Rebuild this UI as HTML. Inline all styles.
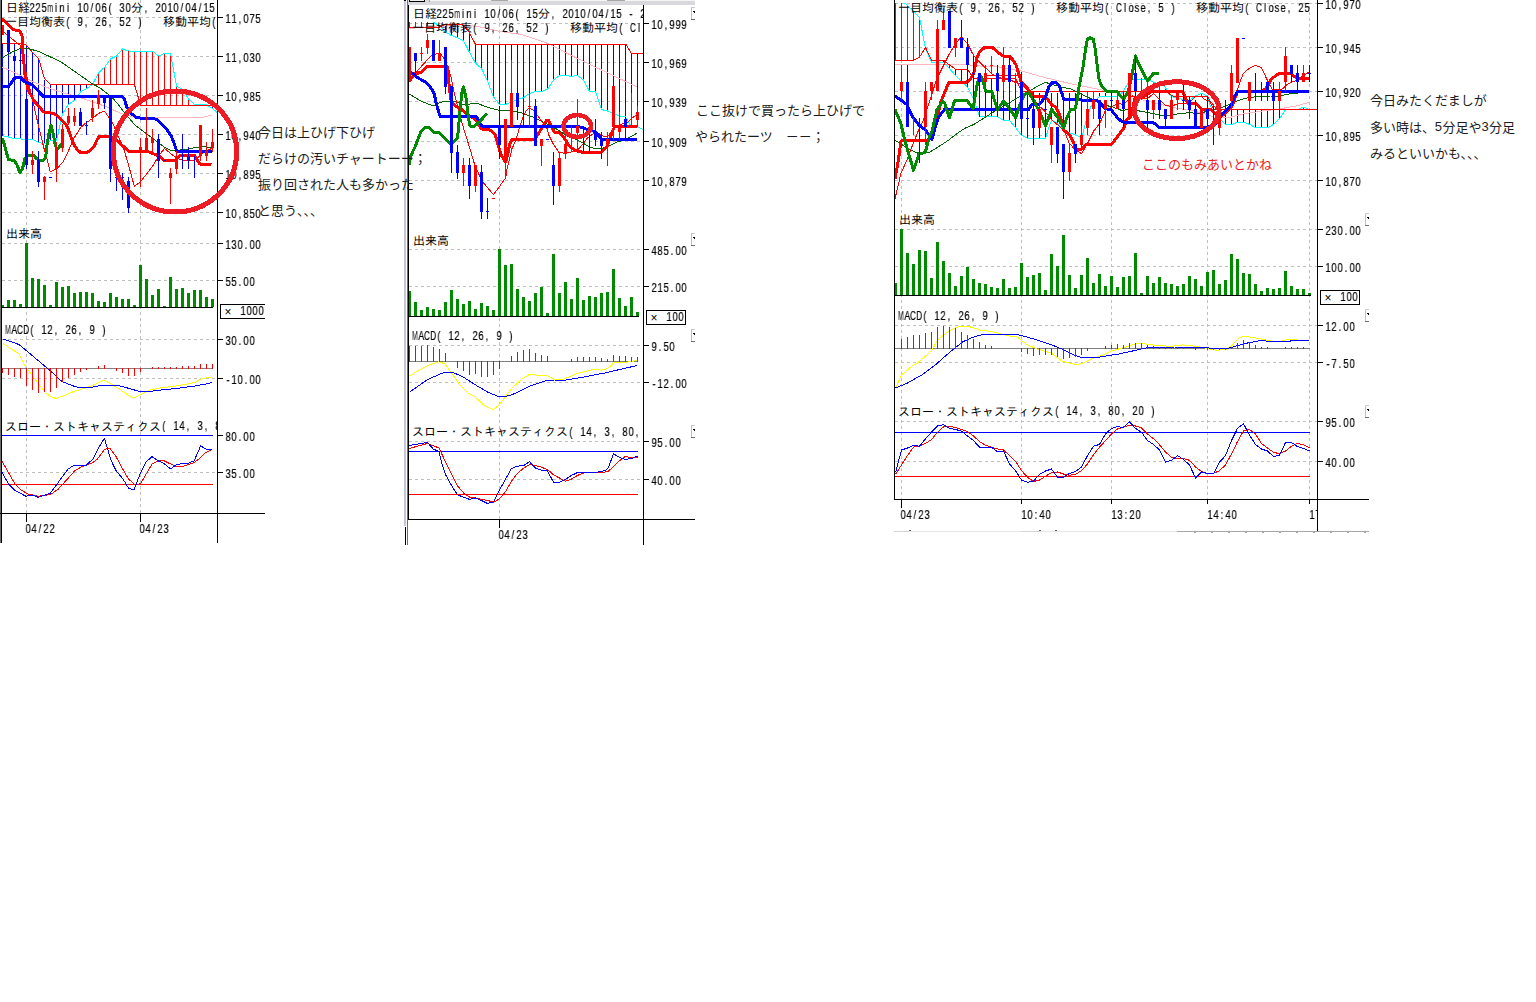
<!DOCTYPE html>
<html lang="ja"><head><meta charset="utf-8"><title>日経225mini チャート</title>
<style>
html,body{margin:0;padding:0;background:#fff}
body{width:1536px;height:1002px;position:relative;overflow:hidden;font-family:"Liberation Sans",sans-serif}
svg{position:absolute;left:0;top:0}
.m{position:absolute;font:12px/12px "Liberation Sans",sans-serif;color:#000;white-space:pre;transform:scaleX(.8);transform-origin:0 0;will-change:transform;-webkit-text-stroke:.2px #000}
.m b{display:inline-block;width:7.5px;text-align:center;font-weight:normal}
.m b.w6{transform:scaleX(.72);transform-origin:0 0;text-align:left;-webkit-text-stroke:0}
.m b.w7{transform:scaleX(.84);transform-origin:0 0;text-align:left}
.m b.w8{transform:scaleX(.92);transform-origin:0 0;text-align:left}
.c{position:absolute;height:12px;overflow:hidden}
.c .m{left:0;top:0}
.g{fill:#000;font-family:"Liberation Sans","IPAGothic",sans-serif;font-size:12px}
.a{fill:#1c1c1c;font-family:"Liberation Sans","Noto Sans CJK JP",sans-serif;font-size:13px}
.s{position:absolute;font:13px/14px "Liberation Sans",sans-serif;color:#222;white-space:pre}
</style></head><body>
<svg width="1536" height="1002" viewBox="0 0 1536 1002" shape-rendering="crispEdges">
<defs>
<clipPath id="c1"><rect x="0" y="0" width="217" height="543"/></clipPath>
<clipPath id="c1r"><rect x="217" y="0" width="48" height="543"/></clipPath>
<clipPath id="c2"><rect x="408" y="5" width="235" height="540"/></clipPath>
<clipPath id="c2r"><rect x="643" y="0" width="52" height="545"/></clipPath>
<clipPath id="c3"><rect x="894" y="0" width="423" height="531"/></clipPath>
<clipPath id="c3p"><rect x="894" y="3" width="423" height="528"/></clipPath>
<clipPath id="c3r"><rect x="1317" y="0" width="52" height="531"/></clipPath>
</defs>
<g clip-path="url(#c1)">
<path d="M2 17.5H217" stroke="#c0c0c0" stroke-dasharray="3 3" fill="none"/>
<path d="M2 56.5H217" stroke="#c0c0c0" stroke-dasharray="3 3" fill="none"/>
<path d="M2 95.5H217" stroke="#c0c0c0" stroke-dasharray="3 3" fill="none"/>
<path d="M2 134.5H217" stroke="#c0c0c0" stroke-dasharray="3 3" fill="none"/>
<path d="M2 173.5H217" stroke="#c0c0c0" stroke-dasharray="3 3" fill="none"/>
<path d="M2 212.5H217" stroke="#c0c0c0" stroke-dasharray="3 3" fill="none"/>
<path d="M2 243.5H217" stroke="#c0c0c0" stroke-dasharray="3 3" fill="none"/>
<path d="M2 280.5H217" stroke="#c0c0c0" stroke-dasharray="3 3" fill="none"/>
<path d="M2 339.5H217" stroke="#c0c0c0" stroke-dasharray="3 3" fill="none"/>
<path d="M2 378.5H217" stroke="#c0c0c0" stroke-dasharray="3 3" fill="none"/>
<path d="M2 472.5H217" stroke="#c0c0c0" stroke-dasharray="3 3" fill="none"/>
<path d="M26.5 0V513" stroke="#c0c0c0" stroke-dasharray="3 3" fill="none"/>
<path d="M140.5 0V513" stroke="#c0c0c0" stroke-dasharray="3 3" fill="none"/>
<rect x="2" y="44" width="1" height="92" fill="#0000ff"/>
<rect x="8" y="44" width="1" height="93" fill="#0000ff"/>
<rect x="14" y="44" width="1" height="95" fill="#0000ff"/>
<rect x="20" y="46" width="1" height="93" fill="#0000ff"/>
<rect x="26" y="46" width="1" height="93" fill="#0000ff"/>
<rect x="32" y="53" width="1" height="86" fill="#0000ff"/>
<rect x="38" y="59" width="1" height="83" fill="#0000ff"/>
<rect x="44" y="80" width="1" height="64" fill="#0000ff"/>
<rect x="50" y="85" width="1" height="56" fill="#0000ff"/>
<rect x="56" y="85" width="1" height="56" fill="#0000ff"/>
<rect x="62" y="85" width="1" height="29" fill="#0000ff"/>
<rect x="68" y="85" width="1" height="19" fill="#0000ff"/>
<rect x="74" y="85" width="1" height="15" fill="#0000ff"/>
<rect x="80" y="85" width="1" height="7" fill="#0000ff"/>
<rect x="86" y="85" width="1" height="4" fill="#0000ff"/>
<rect x="98" y="73" width="1" height="11" fill="#ff0000"/>
<rect x="104" y="67" width="1" height="17" fill="#ff0000"/>
<rect x="110" y="59" width="1" height="25" fill="#ff0000"/>
<rect x="116" y="56" width="1" height="28" fill="#ff0000"/>
<rect x="122" y="49" width="1" height="35" fill="#ff0000"/>
<rect x="128" y="51" width="1" height="33" fill="#ff0000"/>
<rect x="134" y="51" width="1" height="33" fill="#ff0000"/>
<rect x="140" y="51" width="1" height="54" fill="#ff0000"/>
<rect x="146" y="51" width="1" height="54" fill="#ff0000"/>
<rect x="152" y="51" width="1" height="54" fill="#ff0000"/>
<rect x="158" y="56" width="1" height="49" fill="#ff0000"/>
<rect x="164" y="53" width="1" height="52" fill="#ff0000"/>
<rect x="170" y="53" width="1" height="52" fill="#ff0000"/>
<rect x="176" y="86" width="1" height="19" fill="#ff0000"/>
<rect x="182" y="90" width="1" height="15" fill="#ff0000"/>
<rect x="188" y="99" width="1" height="6" fill="#ff0000"/>
<rect x="194" y="104" width="1" height="1" fill="#ff0000"/>
<rect x="212" y="106" width="1" height="2" fill="#0000ff"/>
<polyline points="2,67 16.8,73.6 33.5,82 50.3,88.7 67,93.8 83.8,98.8 96.4,103 108.4,107.7 121,113.5 133.5,116.9 152.8,117.3 202.3,117.3 211.9,115.2" fill="none" stroke="#ffb6c1" stroke-width="1" stroke-linejoin="round"/>
<polyline points="2.5,135.6 8.5,137 14.5,138.6 20.5,139 26.5,139.4 32.5,139.4 38.5,142.3 44.5,143.8 50.5,140.7 56.5,140.7 62.5,114 68.5,104.2 74.5,100.4 80.5,92 86.5,88.7 92.5,84.5 98.5,72.8 104.5,67.4 110.5,59 116.5,56 122.5,49 128.5,51 134.5,51 140.5,51 146.5,51 152.5,51 158.5,56 164.5,53.4 170.5,53.4 176.5,86 182.5,89.5 188.5,99 194.5,104.3 200.5,104.4 206.5,104.6 212.5,108.5 217.5,112.7" fill="none" stroke="#00ffff" stroke-width="1" stroke-linejoin="round"/>
<polyline points="2,43 21,43 26.4,45.1 32.5,52.3 38.6,58.5 44.4,78.7 50.3,84.5 134.4,84.5 140.6,105.2 212.6,105.2" fill="none" stroke="#ff0000" stroke-width="1" stroke-linejoin="round"/>
<polyline points="2,58 10.9,52.7 20,48.5 29,48.8 38.6,51.4 50.3,56.9 61.2,62 75.4,72 92.2,83.7 100,88 110,95.5 116.8,102.6 125,113.5 135.2,125.3 145.3,132.8 152,137.8 158.7,142.9 165.4,147.9 171.2,150.4 184.7,149.8 196.4,147.2 204.8,146.8 212,147.5" fill="none" stroke="#006400" stroke-width="1" stroke-linejoin="round"/>
<polyline points="2.5,31 8.6,36 14.6,41 20.6,45.5 24,62 26.6,75 32.6,100 37.7,122.6 43.6,147 47,158.7 50.3,172 57,168.7 62.9,162 68.7,150.3 73.8,138.6 80.5,127.7 86.3,122.6 92.6,118.4 98.5,113.4 104.4,111 109,117.6 113.2,124.3 118,136 123.5,148 128.5,165 134.4,186.5 140.2,182 147,173.5 152.8,166 158.7,156 164.5,148.4 170.4,153.4 176.3,158 183,160.5 194.7,160.5 199.7,156 205.6,151 212,148.4" fill="none" stroke="#ff0000" stroke-width="1" stroke-linejoin="round"/>
<polyline points="2,19 8.4,25 13.4,29.6 20,31 22,36 23,53.5 25,74.5 27.7,88.7 33.5,100 43.6,112 53.6,113.4 58.7,116.8 67,126 70.4,135.2 73.8,144.4 77,149.5 80.5,152.4 86.3,152.8 90.5,150.3 94.7,145.3 97.2,139.4 99.3,136.5 111,136.5 116.8,140.4 128.5,151.2 147,151.2 158.7,155.8 163.5,160 175.4,160 180.5,155.5 194.7,155.5 199.7,164 211.5,164.3" fill="none" stroke="#ff0000" stroke-width="3" stroke-linejoin="round"/>
<polyline points="2,86.6 8.4,86.6 10.9,83.7 13.8,78.7 16.8,77.4 21,77.8 25,82 31.9,84.5 37.7,90.4 43.6,96.8 122.2,96.8 124.3,98.9 126.8,106.8 130.2,112.7 136,117.3 140.2,118.1 152.8,118.1 157.8,120.2 166.2,128.6 171.2,136.2 174.6,144.5 176.7,151.2 211.9,151.2" fill="none" stroke="#0000ff" stroke-width="3" stroke-linejoin="round"/>
<polyline points="2.5,138 5,147 8.4,159.5 14.2,160.8 16.8,164.5 20,173 22.6,168 25,158.7 27.7,155.3 33.5,155.3 37,159 39.4,160.4 43.6,160 45.7,157 47,145.3 49,133.5 51,125 53.2,133.5 55.3,145.3 57,149.5 58.7,147.8 61.2,143.6" fill="none" stroke="#008a00" stroke-width="3" stroke-linejoin="round"/>
<rect x="1" y="25" width="3" height="10" fill="#ff0000"/>
<rect x="8" y="30" width="1" height="22" fill="#0000ff"/>
<rect x="7" y="30" width="3" height="22" fill="#0000ff"/>
<rect x="13" y="56" width="3" height="5" fill="#0000ff"/>
<rect x="19" y="60" width="3" height="1" fill="#0000ff"/>
<rect x="26" y="99" width="1" height="70" fill="#0000ff"/>
<rect x="25" y="99" width="3" height="66" fill="#0000ff"/>
<rect x="32" y="151" width="1" height="23" fill="#ff0000"/>
<rect x="31" y="160" width="3" height="5" fill="#ff0000"/>
<rect x="38" y="151" width="1" height="36" fill="#0000ff"/>
<rect x="37" y="160" width="3" height="22" fill="#0000ff"/>
<rect x="44" y="176" width="1" height="24" fill="#ff0000"/>
<rect x="43" y="177" width="3" height="5" fill="#ff0000"/>
<rect x="49" y="177" width="3" height="1" fill="#0000ff"/>
<rect x="56" y="142" width="1" height="40" fill="#ff0000"/>
<rect x="55" y="147" width="3" height="22" fill="#ff0000"/>
<rect x="62" y="124" width="1" height="28" fill="#ff0000"/>
<rect x="61" y="129" width="3" height="19" fill="#ff0000"/>
<rect x="68" y="108" width="1" height="17" fill="#ff0000"/>
<rect x="67" y="116" width="3" height="7" fill="#ff0000"/>
<rect x="74" y="108" width="1" height="18" fill="#ff0000"/>
<rect x="73" y="116" width="3" height="6" fill="#ff0000"/>
<rect x="80" y="108" width="1" height="18" fill="#0000ff"/>
<rect x="79" y="112" width="3" height="14" fill="#0000ff"/>
<rect x="86" y="121" width="1" height="14" fill="#0000ff"/>
<rect x="85" y="125" width="3" height="1" fill="#0000ff"/>
<rect x="92" y="100" width="1" height="22" fill="#ff0000"/>
<rect x="91" y="108" width="3" height="10" fill="#ff0000"/>
<rect x="98" y="90" width="1" height="19" fill="#ff0000"/>
<rect x="97" y="95" width="3" height="9" fill="#ff0000"/>
<rect x="104" y="95" width="1" height="14" fill="#0000ff"/>
<rect x="103" y="95" width="3" height="8" fill="#0000ff"/>
<rect x="110" y="97" width="1" height="85" fill="#0000ff"/>
<rect x="109" y="97" width="3" height="72" fill="#0000ff"/>
<rect x="116" y="173" width="1" height="18" fill="#0000ff"/>
<rect x="115" y="177" width="3" height="1" fill="#0000ff"/>
<rect x="122" y="173" width="1" height="27" fill="#0000ff"/>
<rect x="121" y="177" width="3" height="1" fill="#0000ff"/>
<rect x="128" y="177" width="1" height="36" fill="#0000ff"/>
<rect x="127" y="181" width="3" height="27" fill="#0000ff"/>
<rect x="140" y="138" width="1" height="49" fill="#ff0000"/>
<rect x="139" y="147" width="3" height="4" fill="#ff0000"/>
<rect x="146" y="108" width="1" height="44" fill="#ff0000"/>
<rect x="145" y="138" width="3" height="14" fill="#ff0000"/>
<rect x="152" y="129" width="1" height="23" fill="#ff0000"/>
<rect x="151" y="138" width="3" height="5" fill="#ff0000"/>
<rect x="158" y="134" width="1" height="44" fill="#0000ff"/>
<rect x="157" y="139" width="3" height="22" fill="#0000ff"/>
<rect x="163" y="160" width="3" height="1" fill="#0000ff"/>
<rect x="170" y="168" width="1" height="36" fill="#ff0000"/>
<rect x="169" y="173" width="3" height="5" fill="#ff0000"/>
<rect x="176" y="151" width="1" height="23" fill="#ff0000"/>
<rect x="175" y="156" width="3" height="13" fill="#ff0000"/>
<rect x="182" y="134" width="1" height="35" fill="#0000ff"/>
<rect x="181" y="155" width="3" height="1" fill="#0000ff"/>
<rect x="188" y="147" width="1" height="22" fill="#0000ff"/>
<rect x="187" y="156" width="3" height="5" fill="#0000ff"/>
<rect x="194" y="156" width="1" height="22" fill="#0000ff"/>
<rect x="200" y="125" width="1" height="36" fill="#ff0000"/>
<rect x="199" y="125" width="3" height="31" fill="#ff0000"/>
<rect x="206" y="142" width="1" height="19" fill="#ff0000"/>
<rect x="205" y="151" width="3" height="5" fill="#ff0000"/>
<rect x="212" y="129" width="1" height="23" fill="#ff0000"/>
<rect x="211" y="142" width="3" height="6" fill="#ff0000"/>
<rect x="1" y="305" width="3" height="2" fill="#008a00"/>
<rect x="7" y="300" width="3" height="7" fill="#008a00"/>
<rect x="13" y="300" width="3" height="7" fill="#008a00"/>
<rect x="19" y="304" width="3" height="3" fill="#008a00"/>
<rect x="25" y="243" width="3" height="64" fill="#008a00"/>
<rect x="31" y="278" width="3" height="29" fill="#008a00"/>
<rect x="37" y="279" width="3" height="28" fill="#008a00"/>
<rect x="43" y="285" width="3" height="22" fill="#008a00"/>
<rect x="49" y="305" width="3" height="2" fill="#008a00"/>
<rect x="55" y="282" width="3" height="25" fill="#008a00"/>
<rect x="61" y="287" width="3" height="20" fill="#008a00"/>
<rect x="67" y="286" width="3" height="21" fill="#008a00"/>
<rect x="73" y="293" width="3" height="14" fill="#008a00"/>
<rect x="79" y="292" width="3" height="15" fill="#008a00"/>
<rect x="85" y="292" width="3" height="15" fill="#008a00"/>
<rect x="91" y="293" width="3" height="14" fill="#008a00"/>
<rect x="97" y="301" width="3" height="6" fill="#008a00"/>
<rect x="103" y="302" width="3" height="5" fill="#008a00"/>
<rect x="109" y="293" width="3" height="14" fill="#008a00"/>
<rect x="115" y="297" width="3" height="10" fill="#008a00"/>
<rect x="121" y="299" width="3" height="8" fill="#008a00"/>
<rect x="127" y="299" width="3" height="8" fill="#008a00"/>
<rect x="133" y="305" width="3" height="2" fill="#008a00"/>
<rect x="139" y="265" width="3" height="42" fill="#008a00"/>
<rect x="145" y="279" width="3" height="28" fill="#008a00"/>
<rect x="151" y="295" width="3" height="12" fill="#008a00"/>
<rect x="157" y="289" width="3" height="18" fill="#008a00"/>
<rect x="163" y="306" width="3" height="1" fill="#008a00"/>
<rect x="169" y="277" width="3" height="30" fill="#008a00"/>
<rect x="175" y="289" width="3" height="18" fill="#008a00"/>
<rect x="181" y="288" width="3" height="19" fill="#008a00"/>
<rect x="187" y="293" width="3" height="14" fill="#008a00"/>
<rect x="193" y="290" width="3" height="17" fill="#008a00"/>
<rect x="199" y="290" width="3" height="17" fill="#008a00"/>
<rect x="205" y="297" width="3" height="10" fill="#008a00"/>
<rect x="211" y="299" width="3" height="8" fill="#008a00"/>
<rect x="2" y="307" width="211" height="1" fill="#000"/>
<rect x="2" y="368" width="211" height="1" fill="#808080"/>
<polyline points="3,343.6 19,354 26,368 27,368.4 37.5,382.5 45,392 50.6,397 56,398.4 64,395.6 75,391 86,388 97.5,383.4 104,380 110,383.4 118,388 127.5,394.7 133.5,398.4 140.6,394.7 150,390 161,387.8 176,386 195,382.5 200.6,379 212,377" fill="none" stroke="#ffff00" stroke-width="1" stroke-linejoin="round"/>
<polyline points="3,339 19,344.5 28,352 37.5,360 50.6,371 62,381.6 75,386.6 80.6,387.6 92,387.2 103,385 116,385 127.5,388 139,391.3 150,391.3 165,389.6 180,388 195,386 206,384 212,382.5" fill="none" stroke="#0000ff" stroke-width="1" stroke-linejoin="round"/>
<rect x="2" y="368" width="1" height="5" fill="#ff0000"/>
<rect x="8" y="368" width="1" height="7" fill="#ff0000"/>
<rect x="14" y="368" width="1" height="9" fill="#ff0000"/>
<rect x="20" y="368" width="1" height="10" fill="#ff0000"/>
<rect x="26" y="368" width="1" height="18" fill="#ff0000"/>
<rect x="32" y="368" width="1" height="22" fill="#ff0000"/>
<rect x="38" y="368" width="1" height="25" fill="#ff0000"/>
<rect x="44" y="368" width="1" height="24" fill="#ff0000"/>
<rect x="50" y="368" width="1" height="24" fill="#ff0000"/>
<rect x="56" y="368" width="1" height="20" fill="#ff0000"/>
<rect x="62" y="368" width="1" height="14" fill="#ff0000"/>
<rect x="68" y="368" width="1" height="10" fill="#ff0000"/>
<rect x="74" y="368" width="1" height="7" fill="#ff0000"/>
<rect x="80" y="368" width="1" height="4" fill="#ff0000"/>
<rect x="86" y="368" width="1" height="2" fill="#ff0000"/>
<rect x="98" y="366" width="1" height="3" fill="#ff0000"/>
<rect x="104" y="365" width="1" height="4" fill="#ff0000"/>
<rect x="116" y="368" width="1" height="3" fill="#ff0000"/>
<rect x="122" y="368" width="1" height="5" fill="#ff0000"/>
<rect x="128" y="368" width="1" height="8" fill="#ff0000"/>
<rect x="134" y="368" width="1" height="8" fill="#ff0000"/>
<rect x="140" y="368" width="1" height="4" fill="#ff0000"/>
<rect x="152" y="367" width="1" height="2" fill="#ff0000"/>
<rect x="158" y="367" width="1" height="2" fill="#ff0000"/>
<rect x="164" y="367" width="1" height="2" fill="#ff0000"/>
<rect x="170" y="367" width="1" height="2" fill="#ff0000"/>
<rect x="176" y="367" width="1" height="2" fill="#ff0000"/>
<rect x="182" y="366" width="1" height="3" fill="#ff0000"/>
<rect x="188" y="366" width="1" height="3" fill="#ff0000"/>
<rect x="194" y="366" width="1" height="3" fill="#ff0000"/>
<rect x="200" y="364" width="1" height="5" fill="#ff0000"/>
<rect x="206" y="364" width="1" height="5" fill="#ff0000"/>
<rect x="212" y="364" width="1" height="5" fill="#ff0000"/>
<rect x="2" y="435" width="211" height="1" fill="#0000ff"/>
<rect x="2" y="484" width="211" height="1" fill="#ff0000"/>
<polyline points="1.9,461 8.4,472.5 15,483.8 20.6,489.8 28,494 38.4,496.3 50.6,494.4 58,489.4 64,482.8 75,470.6 80.6,467.3 92,463 97.5,459 104.4,449.6 109.7,448 116,456.6 122,467.8 128.4,479 135,484.7 140.6,483.8 146,474.4 152,464 158.4,460.7 164,460.7 170.6,464 176,466.3 183,466.3 194,462.8 200.6,457.5 206,452.3 212,449.6" fill="none" stroke="#ff0000" stroke-width="1" stroke-linejoin="round"/>
<polyline points="1.9,472 8.4,483.8 15,490.3 26,496.3 32,495 38.4,497.3 44,495.4 50,493.5 56,485.6 62,477 68.4,468.8 74,465.4 86,465.4 93,459 98.4,448 104.4,438.4 108,450 110.6,459.4 116,470.6 123,479 128.4,488 134,490 137,482 140.6,472.5 146,462 152,456.6 158.4,461 164,463.5 170.6,469 176,465 182,463.5 187.5,463.5 194,461 200.6,446 206,449 212,449.6" fill="none" stroke="#0000ff" stroke-width="1" stroke-linejoin="round"/>
</g>
<rect x="0" y="0" width="1" height="543" fill="#6e6e6e"/>
<rect x="1" y="0" width="1" height="543" fill="#000"/>
<rect x="217" y="0" width="1" height="543" fill="#000"/>
<rect x="0" y="513" width="265" height="1" fill="#000"/>
<rect x="26" y="514" width="1" height="8" fill="#000"/>
<rect x="140" y="514" width="1" height="8" fill="#000"/>
<rect x="218" y="17" width="5" height="1" fill="#000"/>
<rect x="218" y="56" width="5" height="1" fill="#000"/>
<rect x="218" y="95" width="5" height="1" fill="#000"/>
<rect x="218" y="134" width="5" height="1" fill="#000"/>
<rect x="218" y="173" width="5" height="1" fill="#000"/>
<rect x="218" y="212" width="5" height="1" fill="#000"/>
<rect x="218" y="243" width="5" height="1" fill="#000"/>
<rect x="218" y="280" width="5" height="1" fill="#000"/>
<rect x="218" y="339" width="5" height="1" fill="#000"/>
<rect x="218" y="378" width="5" height="1" fill="#000"/>
<rect x="218" y="435" width="5" height="1" fill="#000"/>
<rect x="218" y="472" width="5" height="1" fill="#000"/>
<rect x="220.5" y="304.5" width="50" height="14" fill="#fff" stroke="#000" clip-path="url(#c1r)"/>
<text class="g" x="228" y="315.5" font-size="13" text-anchor="middle">×</text>
<g clip-path="url(#c1)">
<text class="g" x="6" y="12">日経</text>
<text class="g" x="131" y="12">分</text>
<text class="g" x="5" y="26">一目均衡表</text>
<text class="g" x="163" y="26">移動平均</text>
<text class="g" x="6" y="238">出来高</text>
<text class="g" x="5" y="431">スロー・ストキャスティクス</text>
</g>
<rect x="408" y="0" width="287" height="5" fill="#d9d9dd"/>
<rect x="430" y="0" width="265" height="1" fill="#f4f4f4"/>
<rect x="429" y="0" width="1" height="2" fill="#a0a0a0"/>
<rect x="409" y="0" width="16" height="2" fill="#000"/>
<rect x="410" y="0" width="14" height="1" fill="#f0f0f0"/>
<rect x="491" y="0" width="17" height="1" fill="#a8a8a8"/>
<rect x="607" y="0" width="18" height="1" fill="#a8a8a8"/>
<rect x="404" y="0" width="2" height="526" fill="#c6c6d6"/>
<rect x="404" y="0" width="2" height="1" fill="#000"/>
<rect x="405" y="527" width="1" height="18" fill="#000"/>
<g clip-path="url(#c2)">
<path d="M409 23.5H643" stroke="#c0c0c0" stroke-dasharray="3 3" fill="none"/>
<path d="M409 62.5H643" stroke="#c0c0c0" stroke-dasharray="3 3" fill="none"/>
<path d="M409 101.5H643" stroke="#c0c0c0" stroke-dasharray="3 3" fill="none"/>
<path d="M409 141.5H643" stroke="#c0c0c0" stroke-dasharray="3 3" fill="none"/>
<path d="M409 180.5H643" stroke="#c0c0c0" stroke-dasharray="3 3" fill="none"/>
<path d="M409 249.5H643" stroke="#c0c0c0" stroke-dasharray="3 3" fill="none"/>
<path d="M409 286.5H643" stroke="#c0c0c0" stroke-dasharray="3 3" fill="none"/>
<path d="M409 345.5H643" stroke="#c0c0c0" stroke-dasharray="3 3" fill="none"/>
<path d="M409 382.5H643" stroke="#c0c0c0" stroke-dasharray="3 3" fill="none"/>
<path d="M409 441.5H643" stroke="#c0c0c0" stroke-dasharray="3 3" fill="none"/>
<path d="M409 479.5H643" stroke="#c0c0c0" stroke-dasharray="3 3" fill="none"/>
<path d="M499.5 6V519" stroke="#c0c0c0" stroke-dasharray="3 3" fill="none"/>
<rect x="409" y="22" width="1" height="6" fill="#ff0000"/>
<rect x="415" y="22" width="1" height="6" fill="#ff0000"/>
<rect x="421" y="22" width="1" height="6" fill="#ff0000"/>
<rect x="427" y="22" width="1" height="6" fill="#ff0000"/>
<rect x="433" y="22" width="1" height="6" fill="#ff0000"/>
<rect x="439" y="26" width="1" height="2" fill="#ff0000"/>
<rect x="445" y="25" width="1" height="7" fill="#0000ff"/>
<rect x="451" y="25" width="1" height="11" fill="#0000ff"/>
<rect x="457" y="25" width="1" height="13" fill="#0000ff"/>
<rect x="463" y="26" width="1" height="15" fill="#0000ff"/>
<rect x="469" y="34" width="1" height="18" fill="#0000ff"/>
<rect x="475" y="45" width="1" height="18" fill="#0000ff"/>
<rect x="481" y="45" width="1" height="23" fill="#0000ff"/>
<rect x="487" y="45" width="1" height="36" fill="#0000ff"/>
<rect x="493" y="45" width="1" height="52" fill="#0000ff"/>
<rect x="499" y="45" width="1" height="59" fill="#0000ff"/>
<rect x="505" y="45" width="1" height="59" fill="#0000ff"/>
<rect x="511" y="45" width="1" height="57" fill="#0000ff"/>
<rect x="517" y="45" width="1" height="55" fill="#0000ff"/>
<rect x="523" y="45" width="1" height="53" fill="#0000ff"/>
<rect x="529" y="45" width="1" height="49" fill="#0000ff"/>
<rect x="535" y="45" width="1" height="46" fill="#0000ff"/>
<rect x="541" y="45" width="1" height="46" fill="#0000ff"/>
<rect x="547" y="45" width="1" height="44" fill="#0000ff"/>
<rect x="553" y="45" width="1" height="35" fill="#0000ff"/>
<rect x="559" y="45" width="1" height="31" fill="#0000ff"/>
<rect x="565" y="45" width="1" height="31" fill="#0000ff"/>
<rect x="571" y="45" width="1" height="31" fill="#0000ff"/>
<rect x="577" y="45" width="1" height="31" fill="#0000ff"/>
<rect x="583" y="45" width="1" height="35" fill="#0000ff"/>
<rect x="589" y="45" width="1" height="46" fill="#0000ff"/>
<rect x="595" y="45" width="1" height="46" fill="#0000ff"/>
<rect x="601" y="45" width="1" height="65" fill="#0000ff"/>
<rect x="607" y="45" width="1" height="66" fill="#0000ff"/>
<rect x="613" y="45" width="1" height="69" fill="#0000ff"/>
<rect x="619" y="45" width="1" height="71" fill="#0000ff"/>
<rect x="625" y="45" width="1" height="72" fill="#0000ff"/>
<rect x="631" y="54" width="1" height="73" fill="#0000ff"/>
<rect x="637" y="54" width="1" height="73" fill="#0000ff"/>
<polyline points="409,28.5 437.5,26 462.7,24.7 479.4,26.8 499.6,31.4 521.4,34.4 548.3,43.6 571,55.3 595.2,67 616.2,77 636.7,86.8" fill="none" stroke="#ffb6c1" stroke-width="1" stroke-linejoin="round"/>
<polyline points="433.5,22.5 439.5,25.5 445.5,32 451.5,35.6 457.5,37.7 463.5,40.7 469.5,52.4 475.5,63.3 481.5,68.4 487.5,81 493.5,96.9 499.5,104.4 505.5,104.4 511.5,102 517.5,99.5 523.5,97.7 529.5,93.5 535.5,91.4 541.5,91.4 547.5,89.3 553.5,80 559.5,75.5 565.5,75.5 571.5,76.5 577.5,75.5 583.5,80 589.5,91.4 595.5,91.4 601.5,109.5 607.5,111 613.5,113.6 619.5,116.3 625.5,117 631.5,127 637.5,127 643,129.6" fill="none" stroke="#00ffff" stroke-width="1" stroke-linejoin="round"/>
<polyline points="409,27.7 439.2,27.2 446,24.3 462.7,24.3 469.4,32.7 475.3,44 625.8,44 631.3,53.2 643,53.2" fill="none" stroke="#ff0000" stroke-width="1" stroke-linejoin="round"/>
<polyline points="409,94 420.8,101 433.3,106 435.9,104.4 444.2,101 454.3,101 462.7,104.4 467.7,104.4 473.6,103.2 477.8,103.6 487.8,107.4 498.7,110.3 508.8,110.3 521.4,112.8 534.9,117.8 545,122.9 557.5,129.6 565.9,135.4 574.3,138.6 582.7,143 589.4,146.9 595.2,148.6 601,148.6 608.7,146 616.2,142.3 621.2,141 628.8,137.8 636.7,133.3" fill="none" stroke="#006400" stroke-width="1" stroke-linejoin="round"/>
<polyline points="409,80.5 415,73.8 420.8,67 431.7,55 440,53.2 444.2,58.7 447.6,66 451,76.8 454.3,93.5 458.5,109.5 462.7,125.4 466,136 469.4,147 474.4,163.7 479.4,175.4 482.8,182 493.5,194.7 505.6,178 507,169.5 512,148.6 515.5,141 519.7,127 523,117 526.4,110.3 529.4,108.2 534,110.3 537.4,115.3 543.3,123.7 546.6,127 549,135.4 553.3,144 559.2,152.8 566,153.2 577.6,150.2 582.7,144.4 587,138.5 593,134 599.4,133.8 604.5,136.7 608.7,135.4 612,130.4 615,126.2 622,124 628,122 632,117.8 636.7,115.3" fill="none" stroke="#ff0000" stroke-width="1" stroke-linejoin="round"/>
<polyline points="409,81.3 415,73.8 421.6,72.3 427.5,66.2 444.2,66.2 447.6,67 449.3,87.7 451,100.2 453.5,104.4 458.5,107.8 462.7,110.3 467.7,115.3 475.2,118.7 479.4,126.2 482,129 488.7,129.6 492.9,132 495.4,135.4 498.7,147 501.2,155.3 505.6,162 508,152.8 509.6,144.4 512,139.5 534.9,139.2 537.4,135.4 542.4,127 546.6,120.3 548.3,120.3 551.7,127 554.2,132 559.2,133 564.2,138 569.3,146 574.3,149.8 582.7,152.3 601,152.3 607,146.9 608.7,141.9 612.8,130.4 615,126.2 636.7,126.2" fill="none" stroke="#ff0000" stroke-width="3" stroke-linejoin="round"/>
<polyline points="410.7,72 418.2,78 425.8,82.2 430.8,87.7 434.2,93.5 435.9,102 438.4,111 440,116.2 475.2,116.2 477.8,118.7 481,125 482.8,126.6 578.5,126.6 582.7,127.9 587.7,129.6 593.6,131.2 597.8,134.6 602,139.3 636.7,139.3" fill="none" stroke="#0000ff" stroke-width="3" stroke-linejoin="round"/>
<polyline points="409,165.3 411,155.3 415,147 420.8,132 425.8,127 428.3,127 433.3,132 438.4,132 443.4,137 451,144.4 457.6,138 459.3,118.7 461.8,93.5 463.5,86.8 466,97.7 468.5,118.7 470.2,126.2 474.4,126.2 479.4,122 487,113.2" fill="none" stroke="#008a00" stroke-width="3" stroke-linejoin="round"/>
<rect x="408" y="47" width="3" height="35" fill="#ff0000"/>
<rect x="415" y="53" width="1" height="21" fill="#0000ff"/>
<rect x="414" y="53" width="3" height="8" fill="#0000ff"/>
<rect x="421" y="47" width="1" height="14" fill="#ff0000"/>
<rect x="420" y="53" width="3" height="1" fill="#ff0000"/>
<rect x="427" y="34" width="1" height="20" fill="#ff0000"/>
<rect x="426" y="40" width="3" height="8" fill="#ff0000"/>
<rect x="432" y="40" width="3" height="21" fill="#0000ff"/>
<rect x="439" y="40" width="1" height="21" fill="#ff0000"/>
<rect x="438" y="53" width="3" height="8" fill="#ff0000"/>
<rect x="445" y="47" width="1" height="47" fill="#0000ff"/>
<rect x="444" y="47" width="3" height="40" fill="#0000ff"/>
<rect x="451" y="86" width="1" height="87" fill="#0000ff"/>
<rect x="450" y="86" width="3" height="67" fill="#0000ff"/>
<rect x="457" y="145" width="1" height="34" fill="#0000ff"/>
<rect x="456" y="152" width="3" height="21" fill="#0000ff"/>
<rect x="463" y="158" width="1" height="28" fill="#ff0000"/>
<rect x="462" y="165" width="3" height="8" fill="#ff0000"/>
<rect x="469" y="158" width="1" height="41" fill="#0000ff"/>
<rect x="468" y="165" width="3" height="21" fill="#0000ff"/>
<rect x="475" y="165" width="1" height="27" fill="#ff0000"/>
<rect x="474" y="165" width="3" height="21" fill="#ff0000"/>
<rect x="481" y="165" width="1" height="54" fill="#0000ff"/>
<rect x="480" y="172" width="3" height="40" fill="#0000ff"/>
<rect x="487" y="198" width="1" height="21" fill="#0000ff"/>
<rect x="486" y="211" width="3" height="1" fill="#0000ff"/>
<rect x="492" y="198" width="3" height="1" fill="#ff0000"/>
<rect x="499" y="106" width="1" height="53" fill="#0000ff"/>
<rect x="498" y="125" width="3" height="20" fill="#0000ff"/>
<rect x="505" y="119" width="1" height="59" fill="#ff0000"/>
<rect x="504" y="119" width="3" height="44" fill="#ff0000"/>
<rect x="511" y="60" width="1" height="67" fill="#ff0000"/>
<rect x="510" y="93" width="3" height="34" fill="#ff0000"/>
<rect x="517" y="93" width="1" height="27" fill="#0000ff"/>
<rect x="516" y="93" width="3" height="14" fill="#0000ff"/>
<rect x="523" y="98" width="1" height="28" fill="#0000ff"/>
<rect x="529" y="93" width="1" height="34" fill="#ff0000"/>
<rect x="528" y="106" width="3" height="1" fill="#ff0000"/>
<rect x="535" y="99" width="1" height="47" fill="#0000ff"/>
<rect x="534" y="106" width="3" height="40" fill="#0000ff"/>
<rect x="541" y="139" width="1" height="27" fill="#ff0000"/>
<rect x="540" y="139" width="3" height="7" fill="#ff0000"/>
<rect x="546" y="139" width="3" height="1" fill="#0000ff"/>
<rect x="553" y="152" width="1" height="53" fill="#0000ff"/>
<rect x="552" y="165" width="3" height="21" fill="#0000ff"/>
<rect x="559" y="153" width="1" height="39" fill="#ff0000"/>
<rect x="558" y="158" width="3" height="28" fill="#ff0000"/>
<rect x="565" y="135" width="1" height="24" fill="#ff0000"/>
<rect x="564" y="144" width="3" height="9" fill="#ff0000"/>
<rect x="571" y="126" width="1" height="26" fill="#ff0000"/>
<rect x="577" y="99" width="1" height="54" fill="#ff0000"/>
<rect x="576" y="126" width="3" height="7" fill="#ff0000"/>
<rect x="583" y="126" width="1" height="27" fill="#0000ff"/>
<rect x="589" y="134" width="1" height="19" fill="#0000ff"/>
<rect x="595" y="119" width="1" height="27" fill="#0000ff"/>
<rect x="594" y="131" width="3" height="9" fill="#0000ff"/>
<rect x="601" y="132" width="1" height="27" fill="#0000ff"/>
<rect x="600" y="139" width="3" height="7" fill="#0000ff"/>
<rect x="607" y="132" width="1" height="34" fill="#ff0000"/>
<rect x="606" y="139" width="3" height="6" fill="#ff0000"/>
<rect x="613" y="86" width="1" height="54" fill="#ff0000"/>
<rect x="612" y="86" width="3" height="41" fill="#ff0000"/>
<rect x="619" y="112" width="1" height="28" fill="#ff0000"/>
<rect x="618" y="126" width="3" height="6" fill="#ff0000"/>
<rect x="625" y="117" width="1" height="22" fill="#0000ff"/>
<rect x="624" y="119" width="3" height="8" fill="#0000ff"/>
<rect x="631" y="93" width="1" height="34" fill="#ff0000"/>
<rect x="637" y="106" width="1" height="21" fill="#ff0000"/>
<rect x="636" y="112" width="3" height="8" fill="#ff0000"/>
<rect x="408" y="291" width="3" height="25" fill="#008a00"/>
<rect x="414" y="302" width="3" height="14" fill="#008a00"/>
<rect x="420" y="310" width="3" height="6" fill="#008a00"/>
<rect x="426" y="307" width="3" height="9" fill="#008a00"/>
<rect x="432" y="309" width="3" height="7" fill="#008a00"/>
<rect x="438" y="310" width="3" height="6" fill="#008a00"/>
<rect x="444" y="302" width="3" height="14" fill="#008a00"/>
<rect x="450" y="290" width="3" height="26" fill="#008a00"/>
<rect x="456" y="299" width="3" height="17" fill="#008a00"/>
<rect x="462" y="304" width="3" height="12" fill="#008a00"/>
<rect x="468" y="301" width="3" height="15" fill="#008a00"/>
<rect x="474" y="309" width="3" height="7" fill="#008a00"/>
<rect x="480" y="303" width="3" height="13" fill="#008a00"/>
<rect x="486" y="306" width="3" height="10" fill="#008a00"/>
<rect x="492" y="310" width="3" height="6" fill="#008a00"/>
<rect x="498" y="249" width="3" height="67" fill="#008a00"/>
<rect x="504" y="265" width="3" height="51" fill="#008a00"/>
<rect x="510" y="264" width="3" height="52" fill="#008a00"/>
<rect x="516" y="289" width="3" height="27" fill="#008a00"/>
<rect x="522" y="297" width="3" height="19" fill="#008a00"/>
<rect x="528" y="301" width="3" height="15" fill="#008a00"/>
<rect x="534" y="293" width="3" height="23" fill="#008a00"/>
<rect x="540" y="287" width="3" height="29" fill="#008a00"/>
<rect x="546" y="313" width="3" height="3" fill="#008a00"/>
<rect x="552" y="254" width="3" height="62" fill="#008a00"/>
<rect x="558" y="293" width="3" height="23" fill="#008a00"/>
<rect x="564" y="282" width="3" height="34" fill="#008a00"/>
<rect x="570" y="299" width="3" height="17" fill="#008a00"/>
<rect x="576" y="278" width="3" height="38" fill="#008a00"/>
<rect x="582" y="300" width="3" height="16" fill="#008a00"/>
<rect x="588" y="296" width="3" height="20" fill="#008a00"/>
<rect x="594" y="297" width="3" height="19" fill="#008a00"/>
<rect x="600" y="293" width="3" height="23" fill="#008a00"/>
<rect x="606" y="292" width="3" height="24" fill="#008a00"/>
<rect x="612" y="269" width="3" height="47" fill="#008a00"/>
<rect x="618" y="298" width="3" height="18" fill="#008a00"/>
<rect x="624" y="306" width="3" height="10" fill="#008a00"/>
<rect x="630" y="297" width="3" height="19" fill="#008a00"/>
<rect x="636" y="312" width="3" height="4" fill="#008a00"/>
<rect x="408" y="316" width="231" height="1" fill="#000"/>
<rect x="408" y="361" width="230" height="1" fill="#808080"/>
<polyline points="409.4,376 419.6,369.8 429.3,364.9 439,361.6 445,364 450.9,372 458.7,383.5 468.5,393.2 474.3,396.2 484,405.4 493,409.5 498.8,405.4 505.6,396.2 511.5,388.4 521.3,379.6 530,374 537,375.3 546.7,375.3 554.5,379.6 562.3,379.6 576,374 583.8,371.7 593.6,369.4 601.4,370.2 607.3,368.8 613.6,363.2 616,362.4 628,362 633,361.2 636.5,360" fill="none" stroke="#ffff00" stroke-width="1" stroke-linejoin="round"/>
<polyline points="409.4,392.3 427.4,379.6 445,372 451.8,372 462.6,376.6 476.3,385.4 488,392.3 498.8,396.6 509.5,395.8 517.3,392.3 529,386.4 544.7,381 554.5,380 566.2,380 583.8,377 607.3,372.5 625,368.2 637,365.6" fill="none" stroke="#0000ff" stroke-width="1" stroke-linejoin="round"/>
<rect x="409" y="346" width="1" height="16" fill="#ff0000"/>
<rect x="415" y="346" width="1" height="16" fill="#ff0000"/>
<rect x="421" y="346" width="1" height="16" fill="#ff0000"/>
<rect x="427" y="345" width="1" height="17" fill="#ff0000"/>
<rect x="433" y="347" width="1" height="15" fill="#ff0000"/>
<rect x="439" y="349" width="1" height="13" fill="#ff0000"/>
<rect x="445" y="353" width="1" height="9" fill="#ff0000"/>
<rect x="457" y="361" width="1" height="7" fill="#ff0000"/>
<rect x="463" y="361" width="1" height="10" fill="#ff0000"/>
<rect x="469" y="361" width="1" height="14" fill="#ff0000"/>
<rect x="475" y="361" width="1" height="13" fill="#ff0000"/>
<rect x="481" y="361" width="1" height="16" fill="#ff0000"/>
<rect x="487" y="361" width="1" height="16" fill="#ff0000"/>
<rect x="493" y="361" width="1" height="14" fill="#ff0000"/>
<rect x="499" y="361" width="1" height="8" fill="#ff0000"/>
<rect x="511" y="356" width="1" height="6" fill="#ff0000"/>
<rect x="517" y="352" width="1" height="10" fill="#ff0000"/>
<rect x="523" y="350" width="1" height="12" fill="#ff0000"/>
<rect x="529" y="349" width="1" height="13" fill="#ff0000"/>
<rect x="535" y="353" width="1" height="9" fill="#ff0000"/>
<rect x="541" y="355" width="1" height="7" fill="#ff0000"/>
<rect x="547" y="356" width="1" height="6" fill="#ff0000"/>
<rect x="571" y="359" width="1" height="3" fill="#ff0000"/>
<rect x="577" y="357" width="1" height="5" fill="#ff0000"/>
<rect x="583" y="357" width="1" height="5" fill="#ff0000"/>
<rect x="589" y="357" width="1" height="5" fill="#ff0000"/>
<rect x="595" y="357" width="1" height="5" fill="#ff0000"/>
<rect x="601" y="358" width="1" height="4" fill="#ff0000"/>
<rect x="607" y="359" width="1" height="3" fill="#ff0000"/>
<rect x="613" y="355" width="1" height="7" fill="#ff0000"/>
<rect x="619" y="356" width="1" height="6" fill="#ff0000"/>
<rect x="625" y="356" width="1" height="6" fill="#ff0000"/>
<rect x="631" y="357" width="1" height="5" fill="#ff0000"/>
<rect x="637" y="357" width="1" height="5" fill="#ff0000"/>
<rect x="408" y="451" width="230" height="1" fill="#0000ff"/>
<rect x="408" y="494" width="230" height="1" fill="#ff0000"/>
<polyline points="409.4,448.4 427.4,443.5 439,448 445.4,461.7 451.8,474.4 457.7,486 463.6,493 469.4,497 481.2,499.3 487.4,500.4 493.5,502.2 499.5,498.9 505.6,491.4 511.5,481.3 517.3,473.4 523.6,468.2 529.5,464.6 535.5,465.6 541.4,467.2 547.5,469.5 553.5,474.8 559.4,478 565.5,481.3 571.5,479 577.6,475.4 583.8,473 595.6,472.5 607.5,471.9 613.6,466.6 619.4,460.7 625.5,456.4 631.6,457.8 637.6,457.2" fill="none" stroke="#ff0000" stroke-width="1" stroke-linejoin="round"/>
<polyline points="409.4,445.5 427.4,442.5 433.2,449 439,451.5 442,463.7 445.4,474.4 451.8,486 457.7,495 469.4,499.3 475.3,497.9 481.2,500.4 487.4,503.4 493.5,501.8 499.5,490 505.6,479 511.5,468.5 517.3,466.2 523.6,465.6 529.5,461.7 535.5,468.2 541.4,470 547.5,471 553.5,482.2 559.4,482.2 565.5,479.3 571.5,475.4 577.6,472.5 595.6,472.5 601.4,471.5 607.5,469.5 613.6,453.9 619.4,457.4 625.5,459.4 631.6,458.4 637.6,456.2" fill="none" stroke="#0000ff" stroke-width="1" stroke-linejoin="round"/>
</g>
<rect x="407" y="0" width="1" height="545" fill="#6e6e6e"/>
<rect x="408" y="5" width="1" height="515" fill="#000"/>
<rect x="643" y="5" width="1" height="540" fill="#000"/>
<rect x="408" y="519" width="287" height="1" fill="#000"/>
<rect x="499" y="520" width="1" height="8" fill="#000"/>
<rect x="644" y="23" width="5" height="1" fill="#000"/>
<rect x="644" y="62" width="5" height="1" fill="#000"/>
<rect x="644" y="101" width="5" height="1" fill="#000"/>
<rect x="644" y="141" width="5" height="1" fill="#000"/>
<rect x="644" y="180" width="5" height="1" fill="#000"/>
<rect x="644" y="249" width="5" height="1" fill="#000"/>
<rect x="644" y="286" width="5" height="1" fill="#000"/>
<rect x="644" y="345" width="5" height="1" fill="#000"/>
<rect x="644" y="382" width="5" height="1" fill="#000"/>
<rect x="644" y="441" width="5" height="1" fill="#000"/>
<rect x="644" y="479" width="5" height="1" fill="#000"/>
<rect x="646.5" y="310.5" width="39" height="14" fill="#fff" stroke="#000"/>
<text class="g" x="654" y="321.5" font-size="13" text-anchor="middle">×</text>
<rect x="691" y="7" width="1" height="13" fill="#c0c0c0"/>
<rect x="691" y="7" width="4" height="1" fill="#c8c8c8"/>
<rect x="691" y="19" width="4" height="1" fill="#707070"/>
<rect x="693" y="11" width="2" height="1" fill="#000"/>
<rect x="694" y="12" width="1" height="1" fill="#000"/>
<rect x="691" y="233" width="1" height="13" fill="#c0c0c0"/>
<rect x="691" y="233" width="4" height="1" fill="#c8c8c8"/>
<rect x="691" y="245" width="4" height="1" fill="#707070"/>
<rect x="693" y="237" width="2" height="1" fill="#000"/>
<rect x="694" y="238" width="1" height="1" fill="#000"/>
<rect x="691" y="329" width="1" height="13" fill="#c0c0c0"/>
<rect x="691" y="329" width="4" height="1" fill="#c8c8c8"/>
<rect x="691" y="341" width="4" height="1" fill="#707070"/>
<rect x="693" y="333" width="2" height="1" fill="#000"/>
<rect x="694" y="334" width="1" height="1" fill="#000"/>
<rect x="691" y="425" width="1" height="13" fill="#c0c0c0"/>
<rect x="691" y="425" width="4" height="1" fill="#c8c8c8"/>
<rect x="691" y="437" width="4" height="1" fill="#707070"/>
<rect x="693" y="429" width="2" height="1" fill="#000"/>
<rect x="694" y="430" width="1" height="1" fill="#000"/>
<g clip-path="url(#c2)">
<text class="g" x="413" y="18">日経</text>
<text class="g" x="538" y="18">分</text>
<text class="g" x="412" y="32">一目均衡表</text>
<text class="g" x="570" y="32">移動平均</text>
<text class="g" x="413" y="245">出来高</text>
<text class="g" x="412" y="436">スロー・ストキャスティクス</text>
</g>
<text class="a" x="258" y="137">今日は上ひげ下ひげ</text>
<text class="a" x="258" y="163">だらけの汚いチャートーー；</text>
<text class="a" x="258" y="189">振り回された人も多かった</text>
<text class="a" x="258" y="215">と思う、、、</text>
<text class="a" x="696" y="115">ここ抜けで買ったら上ひげで</text>
<text class="a" x="695" y="141">やられたーツ　－－；</text>
<text class="a" x="1370" y="105">今日みたくだましが</text>
<text class="a" x="1370" y="131.5">多い時は、</text>
<text class="a" x="1442.5" y="131.5">分足や</text>
<text class="a" x="1489" y="131.5">分足</text>
<text class="a" x="1370" y="158">みるといいかも、、、</text>
<g clip-path="url(#c3p)">
<path d="M895 3.5H1317" stroke="#c0c0c0" stroke-dasharray="3 3" fill="none"/>
<path d="M895 47.5H1317" stroke="#c0c0c0" stroke-dasharray="3 3" fill="none"/>
<path d="M895 91.5H1317" stroke="#c0c0c0" stroke-dasharray="3 3" fill="none"/>
<path d="M895 135.5H1317" stroke="#c0c0c0" stroke-dasharray="3 3" fill="none"/>
<path d="M895 180.5H1317" stroke="#c0c0c0" stroke-dasharray="3 3" fill="none"/>
<path d="M895 229.5H1317" stroke="#c0c0c0" stroke-dasharray="3 3" fill="none"/>
<path d="M895 266.5H1317" stroke="#c0c0c0" stroke-dasharray="3 3" fill="none"/>
<path d="M895 325.5H1317" stroke="#c0c0c0" stroke-dasharray="3 3" fill="none"/>
<path d="M895 362.5H1317" stroke="#c0c0c0" stroke-dasharray="3 3" fill="none"/>
<path d="M895 421.5H1317" stroke="#c0c0c0" stroke-dasharray="3 3" fill="none"/>
<path d="M895 461.5H1317" stroke="#c0c0c0" stroke-dasharray="3 3" fill="none"/>
<path d="M901.5 0V499" stroke="#c0c0c0" stroke-dasharray="3 3" fill="none"/>
<path d="M1021.5 0V499" stroke="#c0c0c0" stroke-dasharray="3 3" fill="none"/>
<path d="M1111.5 0V499" stroke="#c0c0c0" stroke-dasharray="3 3" fill="none"/>
<path d="M1207.5 0V499" stroke="#c0c0c0" stroke-dasharray="3 3" fill="none"/>
<path d="M1309.5 0V499" stroke="#c0c0c0" stroke-dasharray="3 3" fill="none"/>
<rect x="895" y="0" width="1" height="60" fill="#ff0000"/>
<rect x="901" y="0" width="1" height="60" fill="#ff0000"/>
<rect x="907" y="6" width="1" height="54" fill="#ff0000"/>
<rect x="913" y="11" width="1" height="49" fill="#ff0000"/>
<rect x="919" y="18" width="1" height="39" fill="#ff0000"/>
<rect x="925" y="48" width="1" height="1" fill="#0000ff"/>
<rect x="931" y="61" width="1" height="1" fill="#0000ff"/>
<rect x="937" y="61" width="1" height="1" fill="#0000ff"/>
<rect x="943" y="61" width="1" height="1" fill="#0000ff"/>
<rect x="949" y="66" width="1" height="3" fill="#0000ff"/>
<rect x="955" y="70" width="1" height="5" fill="#0000ff"/>
<rect x="961" y="70" width="1" height="12" fill="#0000ff"/>
<rect x="967" y="70" width="1" height="17" fill="#0000ff"/>
<rect x="973" y="79" width="1" height="20" fill="#0000ff"/>
<rect x="979" y="79" width="1" height="38" fill="#0000ff"/>
<rect x="985" y="79" width="1" height="38" fill="#0000ff"/>
<rect x="991" y="79" width="1" height="38" fill="#0000ff"/>
<rect x="997" y="79" width="1" height="38" fill="#0000ff"/>
<rect x="1003" y="79" width="1" height="41" fill="#0000ff"/>
<rect x="1009" y="79" width="1" height="41" fill="#0000ff"/>
<rect x="1015" y="79" width="1" height="49" fill="#0000ff"/>
<rect x="1021" y="93" width="1" height="42" fill="#0000ff"/>
<rect x="1027" y="93" width="1" height="45" fill="#0000ff"/>
<rect x="1033" y="93" width="1" height="45" fill="#0000ff"/>
<rect x="1039" y="93" width="1" height="45" fill="#0000ff"/>
<rect x="1045" y="93" width="1" height="45" fill="#0000ff"/>
<rect x="1051" y="93" width="1" height="27" fill="#0000ff"/>
<rect x="1057" y="93" width="1" height="31" fill="#0000ff"/>
<rect x="1063" y="93" width="1" height="37" fill="#0000ff"/>
<rect x="1069" y="93" width="1" height="40" fill="#0000ff"/>
<rect x="1075" y="93" width="1" height="42" fill="#0000ff"/>
<rect x="1081" y="93" width="1" height="45" fill="#0000ff"/>
<rect x="1087" y="93" width="1" height="22" fill="#0000ff"/>
<rect x="1093" y="93" width="1" height="9" fill="#0000ff"/>
<rect x="1099" y="93" width="1" height="3" fill="#0000ff"/>
<rect x="1105" y="93" width="1" height="3" fill="#0000ff"/>
<rect x="1111" y="93" width="1" height="3" fill="#0000ff"/>
<rect x="1117" y="93" width="1" height="3" fill="#0000ff"/>
<rect x="1129" y="82" width="1" height="10" fill="#ff0000"/>
<rect x="1135" y="80" width="1" height="12" fill="#ff0000"/>
<rect x="1141" y="80" width="1" height="12" fill="#ff0000"/>
<rect x="1147" y="80" width="1" height="12" fill="#ff0000"/>
<rect x="1153" y="82" width="1" height="10" fill="#ff0000"/>
<rect x="1159" y="84" width="1" height="8" fill="#ff0000"/>
<rect x="1165" y="88" width="1" height="4" fill="#ff0000"/>
<rect x="1177" y="97" width="1" height="0" fill="#0000ff"/>
<rect x="1183" y="97" width="1" height="3" fill="#0000ff"/>
<rect x="1189" y="97" width="1" height="3" fill="#0000ff"/>
<rect x="1201" y="94" width="1" height="2" fill="#ff0000"/>
<rect x="1213" y="110" width="1" height="4" fill="#0000ff"/>
<rect x="1219" y="110" width="1" height="9" fill="#0000ff"/>
<rect x="1225" y="110" width="1" height="14" fill="#0000ff"/>
<rect x="1231" y="110" width="1" height="14" fill="#0000ff"/>
<rect x="1237" y="110" width="1" height="12" fill="#0000ff"/>
<rect x="1243" y="110" width="1" height="12" fill="#0000ff"/>
<rect x="1249" y="110" width="1" height="14" fill="#0000ff"/>
<rect x="1255" y="110" width="1" height="18" fill="#0000ff"/>
<rect x="1261" y="110" width="1" height="18" fill="#0000ff"/>
<rect x="1267" y="110" width="1" height="18" fill="#0000ff"/>
<rect x="1273" y="110" width="1" height="14" fill="#0000ff"/>
<rect x="1279" y="110" width="1" height="9" fill="#0000ff"/>
<rect x="1303" y="107" width="1" height="2" fill="#ff0000"/>
<polyline points="895,65 911,64.5 923.5,65 965.4,64.5 982.2,66.2 999,67 1012,69.5 1021.5,71 1045.5,77.8 1070.7,83.7 1087.4,87 1104.2,90.4 1111,91.7 1124,94 1140.8,99.4 1157.5,103.6 1174.3,107.8 1191,110.3 1203.6,113.6 1216.2,117.8 1228.8,117.8 1237.2,115.3 1245.5,113.5 1262.3,111 1279,109 1295.8,106 1308.8,102.6" fill="none" stroke="#ffb6c1" stroke-width="1" stroke-linejoin="round"/>
<polyline points="901,0 905,3.4 913.6,10.9 919.6,18 925.5,48.6 931.5,62.4 943.5,62.4 949.5,68.7 955.5,75.4 961.5,81.7 967.5,86.8 973.5,98.6 979.5,116.6 997.5,116.6 1003.6,120.4 1009.6,120.4 1015.6,127.8 1021.6,135.4 1027.6,138.3 1045.6,138.3 1048.9,127 1051.6,120.3 1057.6,123.6 1063.6,129.5 1069.7,132.9 1075.6,135 1081.7,137.9 1084,128.7 1087.6,115.3 1090.8,106.9 1093.6,101.9 1099.6,96.4 1117.6,96.4 1123.6,91 1127.7,83.4 1131.5,79.7 1147.5,79.7 1153.6,82.2 1163.4,85.1 1165.5,87.7 1171.5,96.9 1177.5,97.3 1183.5,100.2 1189.5,100.2 1195.5,96 1201.5,93.5 1207.5,96 1209.5,103.6 1213.5,113.6 1219.6,118.6 1225.6,124.4 1231.6,124.4 1237.6,122.3 1243.6,122.3 1249.6,124.4 1255.6,127.8 1267.6,127.8 1273.6,124.4 1279.6,118.6 1285,110.6 1286,109.4" fill="none" stroke="#00ffff" stroke-width="1" stroke-linejoin="round"/>
<polyline points="1299.2,108.8 1303.6,107.2 1307.6,108.8" fill="none" stroke="#00ffff" stroke-width="1" stroke-linejoin="round"/>
<polyline points="895,60.2 913.6,60.2 919.6,57 925.5,47.4 931.5,60.2 943.5,60.2 949.5,65 955.5,69.2 967.5,69.2 970.5,73.8 973.8,78.4 1015.6,78.4 1021.6,91.6 1166,91.6 1172.6,96 1207.6,96 1213.6,109.4 1317,109.4" fill="none" stroke="#ff0000" stroke-width="1" stroke-linejoin="round"/>
<polyline points="985.6,75.9 1018,75.9" fill="none" stroke="#ff0000" stroke-width="1" stroke-linejoin="round"/>
<polyline points="895,140.3 902.6,145.1 911,150.2 917.7,153.1 929.4,152.3 937,147.7 948.7,140.1 957,133.5 965.4,128 973.8,124.5 985.6,117 997.5,109.5 1009.6,102.7 1020.4,96 1031.3,90 1039.7,85 1045.5,82.4 1052.2,84.4 1062.3,87.4 1070.7,88.7 1077.4,92.4 1087.4,97 1095.8,101 1104.2,105 1112.6,107 1121,110.2 1132.4,109.7 1145,112 1157.5,114.5 1164.2,115.7 1171,115.3 1181,113.2 1191,112.8 1199.4,113.6 1207.8,111 1216.2,109.3 1224.6,106.5 1233,102.4 1245.5,98.2 1258,96.5 1270.7,96 1279,96 1287.4,94.2 1300,92.8" fill="none" stroke="#006400" stroke-width="1" stroke-linejoin="round"/>
<polyline points="895,198.8 900.9,173.6 906.8,160.2 913.5,142.6 919.3,128.4 923.5,120 930,100 936.75,79 948.7,55 955.5,43.6 961.5,36.9 967.5,43.6 973.5,55.3 979.5,62 985.6,67.9 991.6,73.8 997.5,77 1003.6,78.8 1009.6,79.6 1015.6,82.6 1021.5,84 1030.5,93.75 1038,105 1043.9,110.2 1052.2,120.3 1064,130.4 1069,142.8 1074,148.6 1081.6,153.7 1083.2,151 1087.4,143.8 1093.6,131.2 1099.6,123.6 1105.6,110.2 1111.7,106.9 1117.6,103.5 1123.6,104.4 1129.6,98.5 1132.4,96 1140.8,98.6 1147.6,98.6 1153.6,93.5 1159.5,99.4 1165.5,105.3 1171.5,106.5 1177.5,103.6 1187.7,103.6 1195.2,96.9 1201.5,96 1204.5,99.4 1211.2,102 1213.5,105.3 1219.6,113 1225.6,112 1231.6,105 1237.6,89.3 1239.7,82.6 1243,74.2 1247.2,70 1249,68.6 1255.7,65.3 1261.6,67.8 1265.8,77 1269,83.7 1272.5,89.6 1281.7,89.6 1286,85.4 1291.5,82 1297.6,80.4 1303.5,75.3 1309.4,72" fill="none" stroke="#ff0000" stroke-width="1" stroke-linejoin="round"/>
<polyline points="895,178.7 898.4,160.2 900.9,141 902.6,140.3 928.6,140.3 932,135.4 937,118.7 940.3,103.6 943.6,95.2 948.7,82.6 967,82 970.5,79 973.8,73 977.2,57 979.5,52 984.7,47.4 992.3,47.4 997.5,52 1003.6,56.2 1009.6,56.3 1013.2,60.4 1016.2,65.3 1018.7,73.6 1021.2,82 1031.3,92.6 1033.8,96.4 1045.5,96.4 1051.4,104.4 1055.6,106.9 1059,113.6 1062.3,123.6 1064,130.4 1069.8,135 1073.2,142 1076,149 1081.6,149.1 1086.6,144.3 1111.7,144.1 1124.3,127.3 1126,120.3 1130.7,117 1134.9,98.6 1145,96 1151.7,91.4 1182.7,91.4 1187.7,103.6 1196.9,104 1201.5,109.5 1211.2,109.5 1219.6,118 1231.6,107 1237.6,91.4 1262.4,91 1265.8,88.7 1271.7,78.7 1279.2,73.2 1290,73.2 1297.6,78.7 1309.4,78.3" fill="none" stroke="#ff0000" stroke-width="3" stroke-linejoin="round"/>
<polyline points="895,96 906.8,104.3 912.6,117 919.3,125.4 925.2,129.6 929.4,135.4 932,139.2 935.3,127 938.6,117 944.5,109.5 1028.8,109.2 1032,104.4 1039.7,104 1045.5,96.8 1048.9,86.8 1052.2,82.6 1056.4,82.6 1059.8,86.8 1062.3,95 1064,99.8 1095.8,100.2 1099.6,101.9 1104.2,107.7 1106.7,109 1111,109.4 1116.8,117 1121,121 1124.3,122.6 1153.3,122.6 1159.2,127.2 1207.8,127.2 1216.2,123.7 1221.2,115.3 1231.3,104.8 1234.6,96 1238,91.3 1309,91.3" fill="none" stroke="#0000ff" stroke-width="3" stroke-linejoin="round"/>
<polyline points="895,109.5 900.9,123.7 905,141 913.5,170.3 919.3,153.5 925.2,152.7 929.4,136.8 932,131.2 937,109.5 942.8,101 944.5,102.7 949.5,117.8 954.5,101 967,100.2 973,108.6 977.2,84.3 979.5,75 982.2,78.4 985.6,91 991.6,91.4 997.5,109.5 1003.6,101 1009.6,108.6 1015.6,117.8 1020.4,103.5 1024.6,94.3 1028.8,92.6 1033.8,101 1039.7,112 1045.5,126.2 1048.9,117 1051.6,109.4 1057.6,117 1063.6,127.8 1066.5,118.6 1070.7,109.4 1074.9,109.4 1077.4,99.3 1079,87 1083.2,66 1085.8,47.7 1087.4,39.3 1090,37.6 1093.3,39.3 1095,47.7 1096.7,62 1099.2,80.4 1101.5,85.4 1105.9,91 1116.8,91 1120,95.7 1123.5,99.2 1127.7,92.8 1131,80.2 1133.5,67 1135.6,56 1137.7,62 1140.8,68.4 1147.5,81 1153.3,73.4 1158.8,73.4" fill="none" stroke="#008a00" stroke-width="3" stroke-linejoin="round"/>
<rect x="901" y="65" width="1" height="35" fill="#ff0000"/>
<rect x="900" y="82" width="3" height="9" fill="#ff0000"/>
<rect x="907" y="65" width="1" height="62" fill="#0000ff"/>
<rect x="906" y="82" width="3" height="45" fill="#0000ff"/>
<rect x="913" y="118" width="1" height="17" fill="#ff0000"/>
<rect x="919" y="118" width="1" height="45" fill="#0000ff"/>
<rect x="925" y="82" width="1" height="63" fill="#ff0000"/>
<rect x="924" y="91" width="3" height="36" fill="#ff0000"/>
<rect x="931" y="82" width="1" height="18" fill="#ff0000"/>
<rect x="930" y="82" width="3" height="9" fill="#ff0000"/>
<rect x="937" y="20" width="1" height="71" fill="#ff0000"/>
<rect x="936" y="29" width="3" height="62" fill="#ff0000"/>
<rect x="943" y="8" width="1" height="22" fill="#ff0000"/>
<rect x="942" y="20" width="3" height="10" fill="#ff0000"/>
<rect x="948" y="11" width="3" height="37" fill="#0000ff"/>
<rect x="955" y="38" width="1" height="19" fill="#ff0000"/>
<rect x="954" y="38" width="3" height="10" fill="#ff0000"/>
<rect x="961" y="20" width="1" height="28" fill="#0000ff"/>
<rect x="960" y="38" width="3" height="10" fill="#0000ff"/>
<rect x="967" y="38" width="1" height="49" fill="#0000ff"/>
<rect x="966" y="47" width="3" height="18" fill="#0000ff"/>
<rect x="973" y="56" width="1" height="43" fill="#0000ff"/>
<rect x="972" y="73" width="3" height="1" fill="#0000ff"/>
<rect x="979" y="73" width="1" height="44" fill="#0000ff"/>
<rect x="978" y="73" width="3" height="9" fill="#0000ff"/>
<rect x="985" y="65" width="1" height="26" fill="#ff0000"/>
<rect x="984" y="73" width="3" height="9" fill="#ff0000"/>
<rect x="991" y="56" width="1" height="18" fill="#ff0000"/>
<rect x="990" y="65" width="3" height="1" fill="#ff0000"/>
<rect x="997" y="65" width="1" height="52" fill="#0000ff"/>
<rect x="996" y="73" width="3" height="18" fill="#0000ff"/>
<rect x="1003" y="47" width="1" height="44" fill="#ff0000"/>
<rect x="1002" y="65" width="3" height="17" fill="#ff0000"/>
<rect x="1009" y="56" width="1" height="64" fill="#0000ff"/>
<rect x="1008" y="65" width="3" height="17" fill="#0000ff"/>
<rect x="1015" y="73" width="1" height="11" fill="#ff0000"/>
<rect x="1021" y="72" width="1" height="63" fill="#0000ff"/>
<rect x="1020" y="82" width="3" height="37" fill="#0000ff"/>
<rect x="1026" y="118" width="3" height="1" fill="#0000ff"/>
<rect x="1033" y="92" width="1" height="53" fill="#0000ff"/>
<rect x="1032" y="109" width="3" height="19" fill="#0000ff"/>
<rect x="1039" y="100" width="1" height="28" fill="#ff0000"/>
<rect x="1038" y="109" width="3" height="19" fill="#ff0000"/>
<rect x="1044" y="109" width="3" height="1" fill="#0000ff"/>
<rect x="1051" y="127" width="1" height="36" fill="#ff0000"/>
<rect x="1050" y="127" width="3" height="18" fill="#ff0000"/>
<rect x="1057" y="127" width="1" height="36" fill="#0000ff"/>
<rect x="1056" y="127" width="3" height="27" fill="#0000ff"/>
<rect x="1063" y="144" width="1" height="55" fill="#0000ff"/>
<rect x="1062" y="144" width="3" height="28" fill="#0000ff"/>
<rect x="1069" y="144" width="1" height="37" fill="#ff0000"/>
<rect x="1068" y="153" width="3" height="19" fill="#ff0000"/>
<rect x="1075" y="144" width="1" height="19" fill="#0000ff"/>
<rect x="1074" y="144" width="3" height="10" fill="#0000ff"/>
<rect x="1081" y="126" width="1" height="21" fill="#ff0000"/>
<rect x="1080" y="135" width="3" height="10" fill="#ff0000"/>
<rect x="1087" y="92" width="1" height="43" fill="#ff0000"/>
<rect x="1086" y="109" width="3" height="19" fill="#ff0000"/>
<rect x="1093" y="92" width="1" height="27" fill="#ff0000"/>
<rect x="1092" y="100" width="3" height="9" fill="#ff0000"/>
<rect x="1099" y="100" width="1" height="35" fill="#0000ff"/>
<rect x="1098" y="100" width="3" height="19" fill="#0000ff"/>
<rect x="1105" y="100" width="1" height="28" fill="#ff0000"/>
<rect x="1104" y="100" width="3" height="9" fill="#ff0000"/>
<rect x="1111" y="92" width="1" height="17" fill="#0000ff"/>
<rect x="1110" y="100" width="3" height="1" fill="#0000ff"/>
<rect x="1117" y="92" width="1" height="17" fill="#ff0000"/>
<rect x="1116" y="100" width="3" height="9" fill="#ff0000"/>
<rect x="1123" y="92" width="1" height="36" fill="#0000ff"/>
<rect x="1122" y="100" width="3" height="9" fill="#0000ff"/>
<rect x="1128" y="73" width="3" height="46" fill="#ff0000"/>
<rect x="1135" y="56" width="1" height="40" fill="#0000ff"/>
<rect x="1134" y="73" width="3" height="18" fill="#0000ff"/>
<rect x="1141" y="78" width="1" height="22" fill="#ff0000"/>
<rect x="1147" y="92" width="1" height="36" fill="#0000ff"/>
<rect x="1146" y="100" width="3" height="10" fill="#0000ff"/>
<rect x="1153" y="100" width="1" height="19" fill="#ff0000"/>
<rect x="1152" y="100" width="3" height="10" fill="#ff0000"/>
<rect x="1159" y="91" width="1" height="28" fill="#0000ff"/>
<rect x="1158" y="100" width="3" height="10" fill="#0000ff"/>
<rect x="1165" y="109" width="1" height="17" fill="#0000ff"/>
<rect x="1164" y="109" width="3" height="10" fill="#0000ff"/>
<rect x="1171" y="96" width="1" height="23" fill="#ff0000"/>
<rect x="1170" y="100" width="3" height="19" fill="#ff0000"/>
<rect x="1177" y="92" width="1" height="18" fill="#ff0000"/>
<rect x="1176" y="92" width="3" height="8" fill="#ff0000"/>
<rect x="1183" y="85" width="1" height="25" fill="#0000ff"/>
<rect x="1182" y="100" width="3" height="1" fill="#0000ff"/>
<rect x="1189" y="98" width="1" height="21" fill="#0000ff"/>
<rect x="1188" y="100" width="3" height="10" fill="#0000ff"/>
<rect x="1195" y="100" width="1" height="26" fill="#0000ff"/>
<rect x="1194" y="109" width="3" height="17" fill="#0000ff"/>
<rect x="1200" y="109" width="3" height="19" fill="#ff0000"/>
<rect x="1207" y="96" width="1" height="30" fill="#0000ff"/>
<rect x="1206" y="109" width="3" height="10" fill="#0000ff"/>
<rect x="1213" y="106" width="1" height="39" fill="#0000ff"/>
<rect x="1219" y="109" width="1" height="26" fill="#ff0000"/>
<rect x="1218" y="109" width="3" height="19" fill="#ff0000"/>
<rect x="1225" y="100" width="1" height="9" fill="#0000ff"/>
<rect x="1231" y="65" width="1" height="44" fill="#ff0000"/>
<rect x="1230" y="73" width="3" height="28" fill="#ff0000"/>
<rect x="1236" y="38" width="3" height="45" fill="#ff0000"/>
<rect x="1242" y="38" width="3" height="1" fill="#0000ff"/>
<rect x="1249" y="82" width="1" height="27" fill="#ff0000"/>
<rect x="1248" y="82" width="3" height="19" fill="#ff0000"/>
<rect x="1255" y="73" width="1" height="28" fill="#0000ff"/>
<rect x="1261" y="82" width="1" height="19" fill="#0000ff"/>
<rect x="1267" y="82" width="1" height="19" fill="#0000ff"/>
<rect x="1266" y="82" width="3" height="9" fill="#0000ff"/>
<rect x="1273" y="82" width="1" height="27" fill="#0000ff"/>
<rect x="1272" y="91" width="3" height="10" fill="#0000ff"/>
<rect x="1279" y="82" width="1" height="27" fill="#ff0000"/>
<rect x="1278" y="91" width="3" height="10" fill="#ff0000"/>
<rect x="1285" y="47" width="1" height="45" fill="#ff0000"/>
<rect x="1284" y="56" width="3" height="26" fill="#ff0000"/>
<rect x="1291" y="65" width="1" height="17" fill="#0000ff"/>
<rect x="1290" y="65" width="3" height="9" fill="#0000ff"/>
<rect x="1297" y="65" width="1" height="26" fill="#0000ff"/>
<rect x="1296" y="73" width="3" height="9" fill="#0000ff"/>
<rect x="1303" y="65" width="1" height="17" fill="#ff0000"/>
<rect x="1302" y="73" width="3" height="9" fill="#ff0000"/>
<rect x="1309" y="65" width="1" height="17" fill="#0000ff"/>
<rect x="1308" y="73" width="3" height="1" fill="#0000ff"/>
<rect x="894" y="283" width="3" height="12" fill="#008a00"/>
<rect x="900" y="229" width="3" height="66" fill="#008a00"/>
<rect x="906" y="253" width="3" height="42" fill="#008a00"/>
<rect x="912" y="264" width="3" height="31" fill="#008a00"/>
<rect x="918" y="250" width="3" height="45" fill="#008a00"/>
<rect x="924" y="251" width="3" height="44" fill="#008a00"/>
<rect x="930" y="278" width="3" height="17" fill="#008a00"/>
<rect x="936" y="242" width="3" height="53" fill="#008a00"/>
<rect x="942" y="261" width="3" height="34" fill="#008a00"/>
<rect x="948" y="273" width="3" height="22" fill="#008a00"/>
<rect x="954" y="286" width="3" height="9" fill="#008a00"/>
<rect x="960" y="276" width="3" height="19" fill="#008a00"/>
<rect x="966" y="267" width="3" height="28" fill="#008a00"/>
<rect x="972" y="279" width="3" height="16" fill="#008a00"/>
<rect x="978" y="283" width="3" height="12" fill="#008a00"/>
<rect x="984" y="284" width="3" height="11" fill="#008a00"/>
<rect x="990" y="287" width="3" height="8" fill="#008a00"/>
<rect x="996" y="288" width="3" height="7" fill="#008a00"/>
<rect x="1002" y="279" width="3" height="16" fill="#008a00"/>
<rect x="1008" y="288" width="3" height="7" fill="#008a00"/>
<rect x="1014" y="287" width="3" height="8" fill="#008a00"/>
<rect x="1020" y="263" width="3" height="32" fill="#008a00"/>
<rect x="1026" y="277" width="3" height="18" fill="#008a00"/>
<rect x="1032" y="275" width="3" height="20" fill="#008a00"/>
<rect x="1038" y="273" width="3" height="22" fill="#008a00"/>
<rect x="1044" y="290" width="3" height="5" fill="#008a00"/>
<rect x="1050" y="254" width="3" height="41" fill="#008a00"/>
<rect x="1056" y="266" width="3" height="29" fill="#008a00"/>
<rect x="1062" y="235" width="3" height="60" fill="#008a00"/>
<rect x="1068" y="275" width="3" height="20" fill="#008a00"/>
<rect x="1074" y="288" width="3" height="7" fill="#008a00"/>
<rect x="1080" y="275" width="3" height="20" fill="#008a00"/>
<rect x="1086" y="258" width="3" height="37" fill="#008a00"/>
<rect x="1092" y="283" width="3" height="12" fill="#008a00"/>
<rect x="1098" y="274" width="3" height="21" fill="#008a00"/>
<rect x="1104" y="286" width="3" height="9" fill="#008a00"/>
<rect x="1110" y="276" width="3" height="19" fill="#008a00"/>
<rect x="1116" y="287" width="3" height="8" fill="#008a00"/>
<rect x="1122" y="277" width="3" height="18" fill="#008a00"/>
<rect x="1128" y="276" width="3" height="19" fill="#008a00"/>
<rect x="1134" y="253" width="3" height="42" fill="#008a00"/>
<rect x="1140" y="293" width="3" height="2" fill="#008a00"/>
<rect x="1146" y="276" width="3" height="19" fill="#008a00"/>
<rect x="1152" y="283" width="3" height="12" fill="#008a00"/>
<rect x="1158" y="277" width="3" height="18" fill="#008a00"/>
<rect x="1164" y="283" width="3" height="12" fill="#008a00"/>
<rect x="1170" y="284" width="3" height="11" fill="#008a00"/>
<rect x="1176" y="286" width="3" height="9" fill="#008a00"/>
<rect x="1182" y="284" width="3" height="11" fill="#008a00"/>
<rect x="1188" y="276" width="3" height="19" fill="#008a00"/>
<rect x="1194" y="279" width="3" height="16" fill="#008a00"/>
<rect x="1200" y="286" width="3" height="9" fill="#008a00"/>
<rect x="1206" y="272" width="3" height="23" fill="#008a00"/>
<rect x="1212" y="270" width="3" height="25" fill="#008a00"/>
<rect x="1218" y="284" width="3" height="11" fill="#008a00"/>
<rect x="1224" y="280" width="3" height="15" fill="#008a00"/>
<rect x="1230" y="254" width="3" height="41" fill="#008a00"/>
<rect x="1236" y="259" width="3" height="36" fill="#008a00"/>
<rect x="1242" y="273" width="3" height="22" fill="#008a00"/>
<rect x="1248" y="274" width="3" height="21" fill="#008a00"/>
<rect x="1254" y="284" width="3" height="11" fill="#008a00"/>
<rect x="1260" y="291" width="3" height="4" fill="#008a00"/>
<rect x="1266" y="288" width="3" height="7" fill="#008a00"/>
<rect x="1272" y="289" width="3" height="6" fill="#008a00"/>
<rect x="1278" y="288" width="3" height="7" fill="#008a00"/>
<rect x="1284" y="271" width="3" height="24" fill="#008a00"/>
<rect x="1290" y="286" width="3" height="9" fill="#008a00"/>
<rect x="1296" y="289" width="3" height="6" fill="#008a00"/>
<rect x="1302" y="289" width="3" height="6" fill="#008a00"/>
<rect x="1308" y="293" width="3" height="2" fill="#008a00"/>
<rect x="894" y="295" width="417" height="1" fill="#000"/>
<rect x="894" y="348" width="416" height="1" fill="#808080"/>
<polyline points="895.5,388 901.5,375 912.4,365.6 916,364.25 931.5,351 937.5,340 949.5,330.5 959.25,326.4 968.6,326.4 980,330 993,332 1008,335.75 1017.4,337 1026.75,344.6 1038,349.25 1051,353 1062.4,361.4 1073.6,364.25 1081,363.9 1092.4,358.6 1105.5,354 1111.25,351 1124.4,347.4 1135.6,344 1143,343.6 1152.5,345 1171.25,346.4 1182.5,345 1197.5,346.4 1208.75,348.9 1216.25,350.2 1225.6,349.6 1231.25,346.4 1238.75,338 1244.4,336 1253.75,337.6 1265,339.9 1276.25,342 1287.5,339.5 1295,339.5 1302.5,340.8 1309,340.25" fill="none" stroke="#ffff00" stroke-width="1" stroke-linejoin="round"/>
<polyline points="895.5,388 906.75,383.4 921.75,375 935,365.2 950,352 963,341.75 972.4,337.4 983.6,334.25 1015.5,334.25 1026.75,337 1038,340.25 1051,344.6 1062.4,349.25 1073.6,354.9 1081,357.3 1098,357.3 1118.75,354 1133.75,350.75 1146.9,347.75 1175,347 1197.5,347 1212.5,348.3 1225.6,348.9 1235,346.4 1246.25,343.25 1259.4,340.8 1278,341.4 1297,340.8 1309,340.25" fill="none" stroke="#0000ff" stroke-width="1" stroke-linejoin="round"/>
<rect x="901" y="339" width="1" height="10" fill="#ff0000"/>
<rect x="907" y="337" width="1" height="12" fill="#ff0000"/>
<rect x="913" y="335" width="1" height="14" fill="#ff0000"/>
<rect x="919" y="335" width="1" height="14" fill="#ff0000"/>
<rect x="925" y="333" width="1" height="16" fill="#ff0000"/>
<rect x="931" y="332" width="1" height="17" fill="#ff0000"/>
<rect x="937" y="327" width="1" height="22" fill="#ff0000"/>
<rect x="943" y="326" width="1" height="23" fill="#ff0000"/>
<rect x="949" y="327" width="1" height="22" fill="#ff0000"/>
<rect x="955" y="328" width="1" height="21" fill="#ff0000"/>
<rect x="961" y="332" width="1" height="17" fill="#ff0000"/>
<rect x="967" y="335" width="1" height="14" fill="#ff0000"/>
<rect x="973" y="339" width="1" height="10" fill="#ff0000"/>
<rect x="979" y="342" width="1" height="7" fill="#ff0000"/>
<rect x="985" y="345" width="1" height="4" fill="#ff0000"/>
<rect x="991" y="346" width="1" height="3" fill="#ff0000"/>
<rect x="1021" y="348" width="1" height="4" fill="#ff0000"/>
<rect x="1027" y="348" width="1" height="6" fill="#ff0000"/>
<rect x="1033" y="348" width="1" height="8" fill="#ff0000"/>
<rect x="1039" y="348" width="1" height="7" fill="#ff0000"/>
<rect x="1045" y="348" width="1" height="7" fill="#ff0000"/>
<rect x="1051" y="348" width="1" height="7" fill="#ff0000"/>
<rect x="1057" y="348" width="1" height="9" fill="#ff0000"/>
<rect x="1063" y="348" width="1" height="11" fill="#ff0000"/>
<rect x="1069" y="348" width="1" height="10" fill="#ff0000"/>
<rect x="1075" y="348" width="1" height="9" fill="#ff0000"/>
<rect x="1081" y="348" width="1" height="7" fill="#ff0000"/>
<rect x="1087" y="348" width="1" height="3" fill="#ff0000"/>
<rect x="1105" y="346" width="1" height="3" fill="#ff0000"/>
<rect x="1111" y="345" width="1" height="4" fill="#ff0000"/>
<rect x="1117" y="344" width="1" height="5" fill="#ff0000"/>
<rect x="1123" y="345" width="1" height="4" fill="#ff0000"/>
<rect x="1129" y="343" width="1" height="6" fill="#ff0000"/>
<rect x="1135" y="343" width="1" height="6" fill="#ff0000"/>
<rect x="1141" y="343" width="1" height="6" fill="#ff0000"/>
<rect x="1147" y="345" width="1" height="4" fill="#ff0000"/>
<rect x="1153" y="346" width="1" height="3" fill="#ff0000"/>
<rect x="1159" y="347" width="1" height="2" fill="#ff0000"/>
<rect x="1165" y="347" width="1" height="2" fill="#ff0000"/>
<rect x="1171" y="347" width="1" height="2" fill="#ff0000"/>
<rect x="1177" y="347" width="1" height="2" fill="#ff0000"/>
<rect x="1183" y="347" width="1" height="2" fill="#ff0000"/>
<rect x="1195" y="348" width="1" height="2" fill="#ff0000"/>
<rect x="1207" y="348" width="1" height="2" fill="#ff0000"/>
<rect x="1213" y="348" width="1" height="2" fill="#ff0000"/>
<rect x="1219" y="348" width="1" height="2" fill="#ff0000"/>
<rect x="1225" y="348" width="1" height="2" fill="#ff0000"/>
<rect x="1231" y="347" width="1" height="2" fill="#ff0000"/>
<rect x="1237" y="343" width="1" height="6" fill="#ff0000"/>
<rect x="1243" y="340" width="1" height="9" fill="#ff0000"/>
<rect x="1249" y="342" width="1" height="7" fill="#ff0000"/>
<rect x="1255" y="345" width="1" height="4" fill="#ff0000"/>
<rect x="1261" y="347" width="1" height="2" fill="#ff0000"/>
<rect x="1267" y="347" width="1" height="2" fill="#ff0000"/>
<rect x="1285" y="347" width="1" height="2" fill="#ff0000"/>
<rect x="1291" y="347" width="1" height="2" fill="#ff0000"/>
<rect x="1297" y="347" width="1" height="2" fill="#ff0000"/>
<rect x="1303" y="347" width="1" height="2" fill="#ff0000"/>
<rect x="894" y="432" width="416" height="1" fill="#0000ff"/>
<rect x="894" y="476" width="416" height="1" fill="#ff0000"/>
<polyline points="895.5,474.4 901.5,465 907.5,455.6 913.5,447.2 919.5,445.9 925.5,443.4 931.5,439.7 937.5,432.2 943.5,427 949.5,426.2 955.5,427.5 961.5,429.4 967.5,431.6 973.5,436 979.5,441.6 985.5,445.3 991.5,447.2 997.5,449 1003.5,450 1009.5,455.6 1015.5,461.25 1021.5,470.6 1027.5,477.2 1033.5,481.5 1039.5,480 1045.5,476.25 1051.5,472.5 1057.5,472 1063.5,474 1069.5,475.3 1075.5,474.4 1081.5,470.6 1087.5,464 1093.5,454.7 1099.5,447.2 1105.5,440.6 1111.5,434 1117.5,429 1123.5,427 1129.5,425.25 1135.5,426 1141.5,427.9 1147.5,434 1153.5,438.75 1159.5,444.75 1165.5,451.9 1171.5,457.5 1177.5,459 1183.5,458.4 1189.5,460.3 1195.5,466.9 1201.5,471.6 1207.5,474 1213.5,473.4 1219.5,470.6 1225.5,465 1231.5,453.75 1237.5,441.6 1243.5,430.9 1249.5,429.4 1255.5,434 1261.5,443.4 1267.5,448 1273.5,452.25 1279.5,453.75 1285.5,451 1291.5,446.25 1297.5,443.4 1303.5,444.75 1309.5,447.75" fill="none" stroke="#ff0000" stroke-width="1" stroke-linejoin="round"/>
<polyline points="895.5,472.5 901.5,450 907.5,448 913.5,445.3 919.5,446.25 925.5,438.75 931.5,432.2 937.5,426 943.5,424.7 949.5,428.4 955.5,429.4 961.5,431.25 967.5,436 973.5,440.6 979.5,447.2 985.5,448 991.5,447.2 997.5,451.9 1003.5,451 1009.5,464 1015.5,470.6 1021.5,480 1027.5,482.25 1033.5,481 1039.5,474.4 1045.5,471 1051.5,469 1057.5,477.2 1063.5,477.2 1069.5,473.4 1075.5,471.6 1081.5,466.9 1087.5,455.6 1093.5,446.25 1099.5,444.4 1105.5,434 1111.5,428.4 1117.5,426.6 1123.5,427.5 1129.5,421.9 1135.5,428.4 1141.5,432.2 1147.5,440.6 1153.5,444.4 1159.5,450 1165.5,462.2 1171.5,460.3 1177.5,455.6 1183.5,459.4 1189.5,465 1195.5,478 1201.5,472 1207.5,473.4 1213.5,474 1219.5,462.2 1225.5,455.6 1231.5,440.6 1237.5,428.4 1243.5,423.75 1249.5,435 1255.5,444.4 1261.5,449 1267.5,451 1273.5,456.6 1279.5,455.25 1285.5,442.5 1291.5,442.5 1297.5,446.6 1303.5,448.5 1309.5,451" fill="none" stroke="#0000ff" stroke-width="1" stroke-linejoin="round"/>
</g>
<rect x="894" y="0" width="1" height="500" fill="#000"/>
<rect x="1317" y="0" width="1" height="531" fill="#000"/>
<rect x="894" y="499" width="475" height="1" fill="#000"/>
<rect x="901" y="500" width="1" height="8" fill="#000"/>
<rect x="1021" y="500" width="1" height="4" fill="#000"/>
<rect x="1111" y="500" width="1" height="4" fill="#000"/>
<rect x="1207" y="500" width="1" height="4" fill="#000"/>
<rect x="1309" y="500" width="1" height="4" fill="#000"/>
<rect x="1318" y="3" width="5" height="1" fill="#000"/>
<rect x="1318" y="47" width="5" height="1" fill="#000"/>
<rect x="1318" y="91" width="5" height="1" fill="#000"/>
<rect x="1318" y="135" width="5" height="1" fill="#000"/>
<rect x="1318" y="180" width="5" height="1" fill="#000"/>
<rect x="1318" y="229" width="5" height="1" fill="#000"/>
<rect x="1318" y="266" width="5" height="1" fill="#000"/>
<rect x="1318" y="325" width="5" height="1" fill="#000"/>
<rect x="1318" y="362" width="5" height="1" fill="#000"/>
<rect x="1318" y="421" width="5" height="1" fill="#000"/>
<rect x="1318" y="461" width="5" height="1" fill="#000"/>
<rect x="1320.5" y="290.5" width="39" height="14" fill="#fff" stroke="#000"/>
<text class="g" x="1328" y="301.5" font-size="13" text-anchor="middle">×</text>
<rect x="1365" y="213" width="1" height="13" fill="#c0c0c0"/>
<rect x="1365" y="213" width="4" height="1" fill="#c8c8c8"/>
<rect x="1365" y="225" width="4" height="1" fill="#707070"/>
<rect x="1367" y="217" width="2" height="1" fill="#000"/>
<rect x="1368" y="218" width="1" height="1" fill="#000"/>
<rect x="1365" y="309" width="1" height="13" fill="#c0c0c0"/>
<rect x="1365" y="309" width="4" height="1" fill="#c8c8c8"/>
<rect x="1365" y="321" width="4" height="1" fill="#707070"/>
<rect x="1367" y="313" width="2" height="1" fill="#000"/>
<rect x="1368" y="314" width="1" height="1" fill="#000"/>
<rect x="1365" y="405" width="1" height="13" fill="#c0c0c0"/>
<rect x="1365" y="405" width="4" height="1" fill="#c8c8c8"/>
<rect x="1365" y="417" width="4" height="1" fill="#707070"/>
<rect x="1367" y="409" width="2" height="1" fill="#000"/>
<rect x="1368" y="410" width="1" height="1" fill="#000"/>
<rect x="894" y="531" width="283" height="1" fill="#e6e6e6"/>
<rect x="894" y="531" width="15" height="1" fill="#d4d4d4"/>
<rect x="1021" y="531" width="19" height="1" fill="#d4d4d4"/>
<rect x="1177" y="531" width="192" height="1" fill="#a8a8a8"/>
<rect x="909" y="530" width="2" height="1" fill="#606060"/>
<rect x="1039" y="530" width="2" height="1" fill="#606060"/>
<rect x="1055" y="530" width="2" height="1" fill="#606060"/>
<rect x="1194" y="532" width="2" height="1" fill="#a0a0a0"/>
<rect x="1211" y="532" width="2" height="1" fill="#a0a0a0"/>
<rect x="1228" y="532" width="2" height="1" fill="#a0a0a0"/>
<rect x="1245" y="532" width="2" height="1" fill="#a0a0a0"/>
<rect x="1262" y="532" width="2" height="1" fill="#a0a0a0"/>
<rect x="1279" y="532" width="2" height="1" fill="#a0a0a0"/>
<rect x="1296" y="532" width="2" height="1" fill="#a0a0a0"/>
<rect x="1313" y="532" width="2" height="1" fill="#a0a0a0"/>
<rect x="1330" y="532" width="2" height="1" fill="#a0a0a0"/>
<rect x="1347" y="532" width="2" height="1" fill="#a0a0a0"/>
<rect x="1364" y="532" width="2" height="1" fill="#a0a0a0"/>
<g clip-path="url(#c3)">
<text class="g" x="898" y="12">一目均衡表</text>
<text class="g" x="1056" y="12">移動平均</text>
<text class="g" x="1196" y="12">移動平均</text>
<text class="g" x="899" y="224">出来高</text>
<text class="g" x="898" y="416">スロー・ストキャスティクス</text>
</g>
<text class="a" style="fill:#ed1c24" x="1142" y="169">ここのもみあいとかね</text>
</svg>
<span class="m" style="left:225px;top:12.5px"><b>1</b><b>1</b><b>,</b><b>0</b><b>7</b><b>5</b></span>
<span class="m" style="left:225px;top:51.5px"><b>1</b><b>1</b><b>,</b><b>0</b><b>3</b><b>0</b></span>
<span class="m" style="left:225px;top:90.5px"><b>1</b><b>0</b><b>,</b><b>9</b><b>8</b><b>5</b></span>
<span class="m" style="left:225px;top:129.5px"><b>1</b><b>0</b><b>,</b><b>9</b><b>4</b><b>0</b></span>
<span class="m" style="left:225px;top:168.5px"><b>1</b><b>0</b><b>,</b><b>8</b><b>9</b><b>5</b></span>
<span class="m" style="left:225px;top:207.5px"><b>1</b><b>0</b><b>,</b><b>8</b><b>5</b><b>0</b></span>
<span class="m" style="left:225px;top:238.5px"><b>1</b><b>3</b><b>0</b><b>.</b><b>0</b><b>0</b></span>
<span class="m" style="left:225px;top:275.5px"><b>5</b><b>5</b><b>.</b><b>0</b><b>0</b></span>
<span class="m" style="left:225px;top:334.5px"><b>3</b><b>0</b><b>.</b><b>0</b><b>0</b></span>
<span class="m" style="left:225px;top:373.5px"><b>-</b><b>1</b><b>0</b><b>.</b><b>0</b><b>0</b></span>
<span class="m" style="left:225px;top:430.5px"><b>8</b><b>0</b><b>.</b><b>0</b><b>0</b></span>
<span class="m" style="left:225px;top:467.5px"><b>3</b><b>5</b><b>.</b><b>0</b><b>0</b></span>
<span class="m" style="left:234px;top:305.2px"><b> </b><b>1</b><b>0</b><b>0</b><b>0</b></span>
<span class="m" style="left:29px;top:1.5px"><b>2</b><b>2</b><b>5</b><b class="w6">m</b><b>i</b><b>n</b><b>i</b><b> </b><b>1</b><b>0</b><b>/</b><b>0</b><b>6</b><b>(</b><b> </b><b>3</b><b>0</b></span>
<span class="m" style="left:143px;top:1.5px"><b>,</b><b> </b><b>2</b><b>0</b><b>1</b><b>0</b><b>/</b><b>0</b><b>4</b><b>/</b><b>1</b><b>5</b></span>
<span class="m" style="left:65px;top:15.5px"><b>(</b><b> </b><b>9</b><b>,</b><b> </b><b>2</b><b>6</b><b>,</b><b> </b><b>5</b><b>2</b><b> </b><b>)</b></span>
<span class="m" style="left:211px;top:15.5px"><b>(</b></span>
<span class="m" style="left:5px;top:323.5px"><b class="w6">M</b><b class="w8">A</b><b class="w7">C</b><b class="w7">D</b><b>(</b><b> </b><b>1</b><b>2</b><b>,</b><b> </b><b>2</b><b>6</b><b>,</b><b> </b><b>9</b><b> </b><b>)</b></span>
<span class="c" style="left:161px;top:420px;width:56px"><span class="m"><b>(</b><b> </b><b>1</b><b>4</b><b>,</b><b> </b><b>3</b><b>,</b><b> </b><b>8</b></span></span>
<span class="m" style="left:24.5px;top:522.5px"><b>0</b><b>4</b><b>/</b><b>2</b><b>2</b></span>
<span class="m" style="left:138.5px;top:522.5px"><b>0</b><b>4</b><b>/</b><b>2</b><b>3</b></span>
<span class="m" style="left:651px;top:18.5px"><b>1</b><b>0</b><b>,</b><b>9</b><b>9</b><b>9</b></span>
<span class="m" style="left:651px;top:57.5px"><b>1</b><b>0</b><b>,</b><b>9</b><b>6</b><b>9</b></span>
<span class="m" style="left:651px;top:96.5px"><b>1</b><b>0</b><b>,</b><b>9</b><b>3</b><b>9</b></span>
<span class="m" style="left:651px;top:136.5px"><b>1</b><b>0</b><b>,</b><b>9</b><b>0</b><b>9</b></span>
<span class="m" style="left:651px;top:175.5px"><b>1</b><b>0</b><b>,</b><b>8</b><b>7</b><b>9</b></span>
<span class="m" style="left:651px;top:244.5px"><b>4</b><b>8</b><b>5</b><b>.</b><b>0</b><b>0</b></span>
<span class="m" style="left:651px;top:281.5px"><b>2</b><b>1</b><b>5</b><b>.</b><b>0</b><b>0</b></span>
<span class="m" style="left:651px;top:340.5px"><b>9</b><b>.</b><b>5</b><b>0</b></span>
<span class="m" style="left:651px;top:377.5px"><b>-</b><b>1</b><b>2</b><b>.</b><b>0</b><b>0</b></span>
<span class="m" style="left:651px;top:436.5px"><b>9</b><b>5</b><b>.</b><b>0</b><b>0</b></span>
<span class="m" style="left:651px;top:474.5px"><b>4</b><b>0</b><b>.</b><b>0</b><b>0</b></span>
<span class="m" style="left:660px;top:311.2px"><b> </b><b>1</b><b>0</b><b>0</b></span>
<span class="m" style="left:436px;top:7.5px"><b>2</b><b>2</b><b>5</b><b class="w6">m</b><b>i</b><b>n</b><b>i</b><b> </b><b>1</b><b>0</b><b>/</b><b>0</b><b>6</b><b>(</b><b> </b><b>1</b><b>5</b></span>
<span class="c" style="left:550px;top:7.5px;width:93px"><span class="m"><b>,</b><b> </b><b>2</b><b>0</b><b>1</b><b>0</b><b>/</b><b>0</b><b>4</b><b>/</b><b>1</b><b>5</b><b> </b><b>-</b><b> </b><b>2</b></span></span>
<span class="m" style="left:472px;top:21.5px"><b>(</b><b> </b><b>9</b><b>,</b><b> </b><b>2</b><b>6</b><b>,</b><b> </b><b>5</b><b>2</b><b> </b><b>)</b></span>
<span class="m" style="left:618px;top:21.5px"><b>(</b><b> </b><b class="w7">C</b><b>l</b></span>
<span class="m" style="left:412px;top:329.5px"><b class="w6">M</b><b class="w8">A</b><b class="w7">C</b><b class="w7">D</b><b>(</b><b> </b><b>1</b><b>2</b><b>,</b><b> </b><b>2</b><b>6</b><b>,</b><b> </b><b>9</b><b> </b><b>)</b></span>
<span class="m" style="left:568px;top:425.5px"><b>(</b><b> </b><b>1</b><b>4</b><b>,</b><b> </b><b>3</b><b>,</b><b> </b><b>8</b><b>0</b><b>,</b></span>
<span class="m" style="left:498px;top:528.5px"><b>0</b><b>4</b><b>/</b><b>2</b><b>3</b></span>
<span class="s" style="left:1434.8px;top:119.9px">5</span>
<span class="s" style="left:1481.4px;top:119.9px">3</span>
<span class="m" style="left:1325px;top:-1.5px"><b>1</b><b>0</b><b>,</b><b>9</b><b>7</b><b>0</b></span>
<span class="m" style="left:1325px;top:42.5px"><b>1</b><b>0</b><b>,</b><b>9</b><b>4</b><b>5</b></span>
<span class="m" style="left:1325px;top:86.5px"><b>1</b><b>0</b><b>,</b><b>9</b><b>2</b><b>0</b></span>
<span class="m" style="left:1325px;top:130.5px"><b>1</b><b>0</b><b>,</b><b>8</b><b>9</b><b>5</b></span>
<span class="m" style="left:1325px;top:175.5px"><b>1</b><b>0</b><b>,</b><b>8</b><b>7</b><b>0</b></span>
<span class="m" style="left:1325px;top:224.5px"><b>2</b><b>3</b><b>0</b><b>.</b><b>0</b><b>0</b></span>
<span class="m" style="left:1325px;top:261.5px"><b>1</b><b>0</b><b>0</b><b>.</b><b>0</b><b>0</b></span>
<span class="m" style="left:1325px;top:320.5px"><b>1</b><b>2</b><b>.</b><b>0</b><b>0</b></span>
<span class="m" style="left:1325px;top:357.5px"><b>-</b><b>7</b><b>.</b><b>5</b><b>0</b></span>
<span class="m" style="left:1325px;top:416.5px"><b>9</b><b>5</b><b>.</b><b>0</b><b>0</b></span>
<span class="m" style="left:1325px;top:456.5px"><b>4</b><b>0</b><b>.</b><b>0</b><b>0</b></span>
<span class="m" style="left:1334px;top:291.2px"><b> </b><b>1</b><b>0</b><b>0</b></span>
<span class="m" style="left:958.2px;top:1.8px"><b>(</b><b> </b><b>9</b><b>,</b><b> </b><b>2</b><b>6</b><b>,</b><b> </b><b>5</b><b>2</b><b> </b><b>)</b></span>
<span class="m" style="left:1104.2px;top:1.8px"><b>(</b><b> </b><b class="w7">C</b><b>l</b><b>o</b><b>s</b><b>e</b><b>,</b><b> </b><b>5</b><b> </b><b>)</b></span>
<span class="m" style="left:1244.2px;top:1.8px"><b>(</b><b> </b><b class="w7">C</b><b>l</b><b>o</b><b>s</b><b>e</b><b>,</b><b> </b><b>2</b><b>5</b></span>
<span class="m" style="left:898px;top:309.5px"><b class="w6">M</b><b class="w8">A</b><b class="w7">C</b><b class="w7">D</b><b>(</b><b> </b><b>1</b><b>2</b><b>,</b><b> </b><b>2</b><b>6</b><b>,</b><b> </b><b>9</b><b> </b><b>)</b></span>
<span class="m" style="left:1054px;top:405.2px"><b>(</b><b> </b><b>1</b><b>4</b><b>,</b><b> </b><b>3</b><b>,</b><b> </b><b>8</b><b>0</b><b>,</b><b> </b><b>2</b><b>0</b><b> </b><b>)</b></span>
<span class="m" style="left:899.5px;top:508.5px"><b>0</b><b>4</b><b>/</b><b>2</b><b>3</b></span>
<span class="m" style="left:1021px;top:508.5px"><b>1</b><b>0</b><b>:</b><b>4</b><b>0</b></span>
<span class="m" style="left:1111px;top:508.5px"><b>1</b><b>3</b><b>:</b><b>2</b><b>0</b></span>
<span class="m" style="left:1206.5px;top:508.5px"><b>1</b><b>4</b><b>:</b><b>4</b><b>0</b></span>
<span class="c" style="left:1309px;top:508.5px;width:8px"><span class="m"><b>1</b><b>7</b></span></span>
<svg width="1536" height="1002" viewBox="0 0 1536 1002" shape-rendering="crispEdges">
<ellipse cx="175" cy="151.5" rx="61.7" ry="60.5" fill="none" stroke="#ed1c24" stroke-width="5"/>
<ellipse cx="577.2" cy="126" rx="13.7" ry="11" fill="none" stroke="#ed1c24" stroke-width="4.5"/>
<ellipse cx="1176.8" cy="110.1" rx="42.4" ry="28.4" fill="none" stroke="#ed1c24" stroke-width="5"/>
</svg>
</body></html>
